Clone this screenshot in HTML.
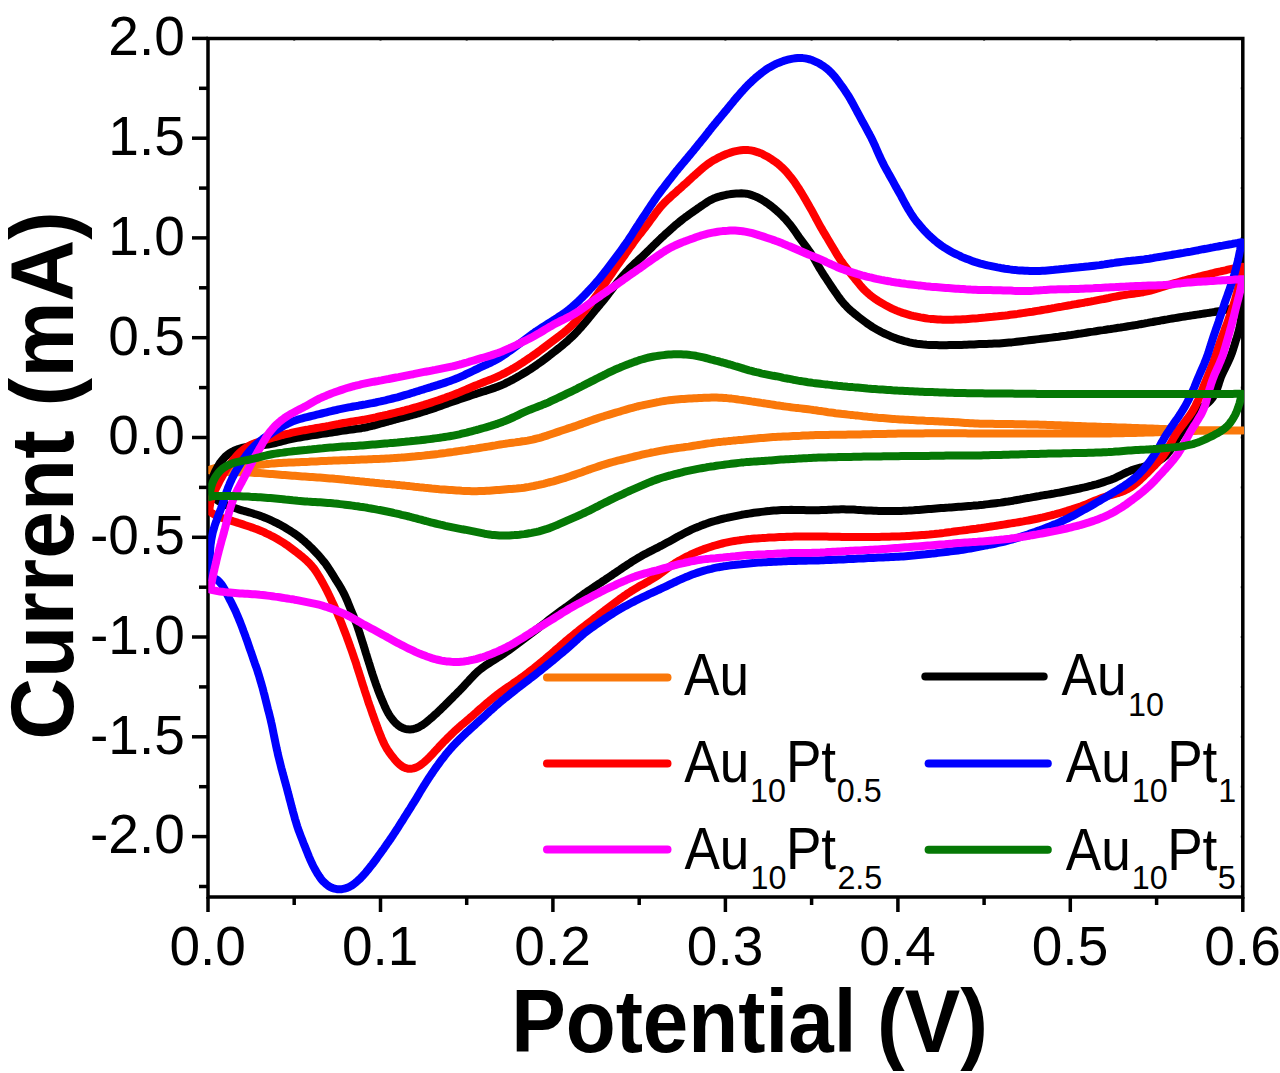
<!DOCTYPE html><html><head><meta charset="utf-8"><style>html,body{margin:0;padding:0;background:#fff;overflow:hidden}svg{display:block}text{font-family:"Liberation Sans",sans-serif}</style></head><body>
<svg width="1280" height="1073" viewBox="0 0 1280 1073">
<g stroke="#000" stroke-width="3.5" fill="none" stroke-linecap="square">
<rect x="208.0" y="38.5" width="1034.8" height="858.5"/>
</g>
<g stroke="#000" stroke-width="3.5" fill="none">
<line x1="199.0" y1="886.5" x2="208.0" y2="886.5"/>
<line x1="1242.8" y1="886.5" x2="1240.8" y2="886.5" stroke-width="2"/>
<line x1="192.0" y1="836.6" x2="208.0" y2="836.6"/>
<line x1="1242.8" y1="836.6" x2="1240.8" y2="836.6" stroke-width="2"/>
<line x1="199.0" y1="786.7" x2="208.0" y2="786.7"/>
<line x1="1242.8" y1="786.7" x2="1240.8" y2="786.7" stroke-width="2"/>
<line x1="192.0" y1="736.8" x2="208.0" y2="736.8"/>
<line x1="1242.8" y1="736.8" x2="1240.8" y2="736.8" stroke-width="2"/>
<line x1="199.0" y1="686.9" x2="208.0" y2="686.9"/>
<line x1="1242.8" y1="686.9" x2="1240.8" y2="686.9" stroke-width="2"/>
<line x1="192.0" y1="637.0" x2="208.0" y2="637.0"/>
<line x1="1242.8" y1="637.0" x2="1240.8" y2="637.0" stroke-width="2"/>
<line x1="199.0" y1="587.2" x2="208.0" y2="587.2"/>
<line x1="1242.8" y1="587.2" x2="1240.8" y2="587.2" stroke-width="2"/>
<line x1="192.0" y1="537.3" x2="208.0" y2="537.3"/>
<line x1="1242.8" y1="537.3" x2="1240.8" y2="537.3" stroke-width="2"/>
<line x1="199.0" y1="487.4" x2="208.0" y2="487.4"/>
<line x1="1242.8" y1="487.4" x2="1240.8" y2="487.4" stroke-width="2"/>
<line x1="192.0" y1="437.5" x2="208.0" y2="437.5"/>
<line x1="1242.8" y1="437.5" x2="1240.8" y2="437.5" stroke-width="2"/>
<line x1="199.0" y1="387.6" x2="208.0" y2="387.6"/>
<line x1="1242.8" y1="387.6" x2="1240.8" y2="387.6" stroke-width="2"/>
<line x1="192.0" y1="337.7" x2="208.0" y2="337.7"/>
<line x1="1242.8" y1="337.7" x2="1240.8" y2="337.7" stroke-width="2"/>
<line x1="199.0" y1="287.8" x2="208.0" y2="287.8"/>
<line x1="1242.8" y1="287.8" x2="1240.8" y2="287.8" stroke-width="2"/>
<line x1="192.0" y1="237.9" x2="208.0" y2="237.9"/>
<line x1="1242.8" y1="237.9" x2="1240.8" y2="237.9" stroke-width="2"/>
<line x1="199.0" y1="188.1" x2="208.0" y2="188.1"/>
<line x1="1242.8" y1="188.1" x2="1240.8" y2="188.1" stroke-width="2"/>
<line x1="192.0" y1="138.2" x2="208.0" y2="138.2"/>
<line x1="1242.8" y1="138.2" x2="1240.8" y2="138.2" stroke-width="2"/>
<line x1="199.0" y1="88.3" x2="208.0" y2="88.3"/>
<line x1="1242.8" y1="88.3" x2="1240.8" y2="88.3" stroke-width="2"/>
<line x1="192.0" y1="38.4" x2="208.0" y2="38.4"/>
<line x1="1242.8" y1="38.4" x2="1240.8" y2="38.4" stroke-width="2"/>
<line x1="208.0" y1="897.0" x2="208.0" y2="912.0"/>
<line x1="208.0" y1="38.5" x2="208.0" y2="40.5" stroke-width="2"/>
<line x1="294.2" y1="897.0" x2="294.2" y2="905.0"/>
<line x1="294.2" y1="38.5" x2="294.2" y2="40.5" stroke-width="2"/>
<line x1="380.5" y1="897.0" x2="380.5" y2="912.0"/>
<line x1="380.5" y1="38.5" x2="380.5" y2="40.5" stroke-width="2"/>
<line x1="466.7" y1="897.0" x2="466.7" y2="905.0"/>
<line x1="466.7" y1="38.5" x2="466.7" y2="40.5" stroke-width="2"/>
<line x1="552.9" y1="897.0" x2="552.9" y2="912.0"/>
<line x1="552.9" y1="38.5" x2="552.9" y2="40.5" stroke-width="2"/>
<line x1="639.2" y1="897.0" x2="639.2" y2="905.0"/>
<line x1="639.2" y1="38.5" x2="639.2" y2="40.5" stroke-width="2"/>
<line x1="725.4" y1="897.0" x2="725.4" y2="912.0"/>
<line x1="725.4" y1="38.5" x2="725.4" y2="40.5" stroke-width="2"/>
<line x1="811.6" y1="897.0" x2="811.6" y2="905.0"/>
<line x1="811.6" y1="38.5" x2="811.6" y2="40.5" stroke-width="2"/>
<line x1="897.9" y1="897.0" x2="897.9" y2="912.0"/>
<line x1="897.9" y1="38.5" x2="897.9" y2="40.5" stroke-width="2"/>
<line x1="984.1" y1="897.0" x2="984.1" y2="905.0"/>
<line x1="984.1" y1="38.5" x2="984.1" y2="40.5" stroke-width="2"/>
<line x1="1070.3" y1="897.0" x2="1070.3" y2="912.0"/>
<line x1="1070.3" y1="38.5" x2="1070.3" y2="40.5" stroke-width="2"/>
<line x1="1156.6" y1="897.0" x2="1156.6" y2="905.0"/>
<line x1="1156.6" y1="38.5" x2="1156.6" y2="40.5" stroke-width="2"/>
<line x1="1242.8" y1="897.0" x2="1242.8" y2="912.0"/>
<line x1="1242.8" y1="38.5" x2="1242.8" y2="40.5" stroke-width="2"/>
</g>
<defs><clipPath id="cp"><rect x="208.3" y="38.5" width="1035.7" height="858.5"/></clipPath></defs>
<g clip-path="url(#cp)" fill="none" stroke-width="8" stroke-linejoin="round" stroke-linecap="round">
<path d="M209.5,470.0 211.8,469.0 214.2,468.3 216.6,467.6 219.0,467.1 221.5,466.7 224.0,466.4 226.5,466.1 229.0,465.9 231.5,465.8 234.0,465.7 236.5,465.6 239.0,465.5 241.5,465.5 244.0,465.5 246.5,465.4 249.0,465.3 251.5,465.3 254.0,465.1 256.5,465.0 258.9,464.8 261.4,464.6 263.9,464.4 266.4,464.1 268.9,463.9 271.4,463.6 273.9,463.4 276.4,463.2 278.9,463.0 281.4,462.9 283.9,462.8 286.4,462.7 288.9,462.6 291.4,462.5 293.8,462.4 296.3,462.3 298.8,462.2 301.3,462.1 303.8,462.0 306.3,461.9 308.8,461.8 311.3,461.6 313.8,461.5 316.3,461.4 318.8,461.2 321.3,461.1 323.8,461.0 326.3,460.9 328.8,460.8 331.3,460.7 333.8,460.6 336.3,460.5 338.8,460.4 341.3,460.3 343.8,460.3 346.3,460.2 348.8,460.1 351.3,460.0 353.8,459.9 356.3,459.8 358.8,459.7 361.3,459.6 363.8,459.5 366.3,459.4 368.8,459.3 371.3,459.2 373.8,459.1 376.3,459.0 378.8,458.9 381.3,458.8 383.8,458.7 386.3,458.5 388.8,458.4 391.3,458.2 393.8,458.1 396.2,457.9 398.7,457.7 401.2,457.6 403.7,457.4 406.2,457.2 408.7,457.0 411.2,456.8 413.7,456.6 416.2,456.3 418.7,456.1 421.2,455.9 423.6,455.6 426.1,455.3 428.6,455.1 431.1,454.8 433.6,454.5 436.1,454.2 438.5,453.9 441.0,453.5 443.5,453.2 446.0,452.9 448.5,452.5 450.9,452.2 453.4,451.9 455.9,451.5 458.4,451.1 460.8,450.8 463.3,450.4 465.8,450.1 468.3,449.7 470.7,449.3 473.2,448.9 475.7,448.6 478.1,448.2 480.6,447.8 483.1,447.4 485.5,447.0 488.0,446.6 490.5,446.2 492.9,445.8 495.4,445.4 497.9,444.9 500.3,444.5 502.8,444.1 505.3,443.8 507.8,443.4 510.2,443.0 512.7,442.7 515.2,442.4 517.7,442.0 520.1,441.7 522.6,441.3 525.1,441.0 527.6,440.6 530.0,440.1 532.5,439.6 534.9,439.0 537.3,438.4 539.7,437.8 542.1,437.1 544.5,436.3 546.9,435.6 549.3,434.8 551.6,434.0 554.0,433.2 556.4,432.4 558.7,431.6 561.1,430.8 563.5,430.0 565.9,429.2 568.2,428.4 570.6,427.7 573.0,426.9 575.4,426.1 577.7,425.2 580.1,424.4 582.4,423.6 584.8,422.7 587.1,421.9 589.5,421.0 591.8,420.2 594.2,419.4 596.6,418.6 598.9,417.8 601.3,417.0 603.7,416.3 606.1,415.5 608.5,414.8 610.9,414.1 613.3,413.4 615.7,412.7 618.1,412.0 620.5,411.3 622.9,410.5 625.3,409.8 627.7,409.1 630.1,408.4 632.5,407.8 634.9,407.2 637.3,406.5 639.8,405.9 642.2,405.4 644.6,404.8 647.1,404.3 649.5,403.8 652.0,403.3 654.4,402.8 656.9,402.3 659.3,401.9 661.8,401.4 664.3,401.0 666.7,400.6 669.2,400.3 671.7,400.0 674.2,399.7 676.7,399.4 679.1,399.2 681.6,399.0 684.1,398.9 686.6,398.7 689.1,398.6 691.6,398.5 694.1,398.3 696.6,398.2 699.1,398.0 701.6,397.9 704.1,397.8 706.6,397.7 709.1,397.7 711.6,397.6 714.1,397.6 716.6,397.6 719.1,397.7 721.6,397.8 724.1,398.0 726.6,398.1 729.1,398.4 731.6,398.6 734.0,398.9 736.5,399.2 739.0,399.6 741.5,399.9 744.0,400.3 746.4,400.6 748.9,401.0 751.4,401.4 753.8,401.7 756.3,402.1 758.8,402.5 761.3,402.9 763.7,403.2 766.2,403.6 768.7,404.0 771.1,404.4 773.6,404.8 776.1,405.2 778.6,405.5 781.0,405.9 783.5,406.3 786.0,406.6 788.5,406.9 790.9,407.3 793.4,407.6 795.9,407.9 798.4,408.1 800.9,408.4 803.4,408.7 805.8,409.0 808.3,409.3 810.8,409.6 813.3,410.0 815.7,410.3 818.2,410.7 820.7,411.0 823.2,411.4 825.6,411.8 828.1,412.2 830.6,412.5 833.1,412.8 835.5,413.2 838.0,413.5 840.5,413.8 843.0,414.1 845.5,414.3 848.0,414.6 850.4,414.9 852.9,415.1 855.4,415.4 857.9,415.6 860.4,415.9 862.9,416.2 865.4,416.4 867.9,416.7 870.3,416.9 872.8,417.2 875.3,417.4 877.8,417.7 880.3,417.9 882.8,418.1 885.3,418.3 887.8,418.5 890.3,418.7 892.8,418.9 895.2,419.1 897.7,419.2 900.2,419.4 902.7,419.5 905.2,419.7 907.7,419.8 910.2,420.0 912.7,420.1 915.2,420.2 917.7,420.4 920.2,420.5 922.7,420.6 925.2,420.8 927.7,420.9 930.2,421.0 932.7,421.1 935.2,421.2 937.7,421.3 940.2,421.5 942.7,421.6 945.2,421.7 947.7,421.8 950.2,421.9 952.7,422.0 955.2,422.2 957.7,422.3 960.2,422.5 962.6,422.7 965.1,422.9 967.6,423.0 970.1,423.2 972.6,423.3 975.1,423.5 977.6,423.6 980.1,423.7 982.6,423.7 985.1,423.7 987.6,423.8 990.1,423.8 992.6,423.8 995.1,423.9 997.6,423.9 1000.1,423.9 1002.6,424.0 1005.1,424.0 1007.6,424.1 1010.1,424.1 1012.6,424.1 1015.1,424.2 1017.6,424.2 1020.1,424.2 1022.6,424.3 1025.1,424.3 1027.6,424.4 1030.1,424.4 1032.6,424.5 1035.1,424.6 1037.6,424.6 1040.1,424.7 1042.6,424.8 1045.1,424.8 1047.6,424.9 1050.1,425.0 1052.6,425.1 1055.1,425.2 1057.6,425.3 1060.1,425.3 1062.6,425.4 1065.1,425.5 1067.6,425.6 1070.1,425.7 1072.6,425.8 1075.1,425.9 1077.6,426.0 1080.1,426.1 1082.6,426.2 1085.1,426.3 1087.6,426.4 1090.1,426.4 1092.6,426.5 1095.1,426.6 1097.6,426.7 1100.1,426.8 1102.6,426.9 1105.1,427.0 1107.6,427.1 1110.1,427.1 1112.6,427.2 1115.1,427.3 1117.6,427.4 1120.1,427.5 1122.6,427.6 1125.1,427.6 1127.6,427.7 1130.1,427.8 1132.6,427.9 1135.1,428.0 1137.6,428.1 1140.0,428.2 1142.5,428.2 1145.0,428.3 1147.5,428.4 1150.0,428.5 1152.5,428.6 1155.0,428.7 1157.5,428.8 1160.0,428.9 1162.5,429.0 1165.0,429.1 1167.5,429.2 1170.0,429.3 1172.5,429.4 1175.0,429.5 1177.5,429.6 1180.0,429.7 1182.5,429.8 1185.0,429.9 1187.5,429.9 1190.0,430.0 1192.5,430.0 1195.0,430.1 1197.5,430.1 1200.0,430.2 1202.5,430.2 1205.0,430.2 1207.5,430.2 1210.0,430.2 1212.5,430.3 1215.0,430.3 1217.5,430.3 1220.0,430.3 1222.5,430.3 1225.0,430.3 1227.5,430.3 1230.0,430.3 1232.5,430.4 1235.0,430.4 1237.5,430.4 1240.0,430.4 1242.5,430.4 1243.0,430.4 1240.5,430.4 1238.0,430.4 1235.5,430.5 1233.0,430.5 1230.5,430.5 1228.0,430.5 1225.5,430.5 1223.0,430.6 1220.5,430.6 1218.0,430.6 1215.5,430.6 1213.0,430.7 1210.5,430.7 1208.0,430.7 1205.5,430.7 1203.0,430.8 1200.5,430.8 1198.0,430.8 1195.5,430.9 1193.0,430.9 1190.5,431.0 1188.0,431.1 1185.5,431.1 1183.0,431.2 1180.5,431.3 1178.0,431.4 1175.5,431.5 1173.0,431.6 1170.5,431.7 1168.0,431.8 1165.5,431.9 1163.0,432.0 1160.5,432.1 1158.0,432.2 1155.5,432.3 1153.0,432.4 1150.5,432.5 1148.0,432.6 1145.5,432.6 1143.0,432.7 1140.5,432.8 1138.0,432.8 1135.5,432.9 1133.0,432.9 1130.5,433.0 1128.0,433.1 1125.5,433.1 1123.0,433.2 1120.5,433.2 1118.0,433.3 1115.5,433.3 1113.0,433.3 1110.5,433.4 1108.0,433.4 1105.5,433.4 1103.0,433.5 1100.5,433.5 1098.0,433.5 1095.5,433.5 1093.0,433.5 1090.5,433.6 1088.0,433.6 1085.5,433.6 1083.0,433.6 1080.5,433.6 1078.0,433.6 1075.5,433.6 1073.0,433.6 1070.5,433.6 1068.0,433.6 1065.5,433.6 1063.0,433.6 1060.5,433.6 1058.0,433.5 1055.5,433.5 1053.0,433.5 1050.5,433.5 1048.0,433.5 1045.5,433.5 1043.0,433.5 1040.5,433.5 1038.0,433.5 1035.5,433.5 1033.0,433.5 1030.5,433.5 1028.0,433.5 1025.5,433.5 1023.0,433.5 1020.5,433.5 1018.0,433.5 1015.5,433.5 1013.0,433.5 1010.5,433.5 1008.0,433.5 1005.5,433.5 1003.0,433.5 1000.5,433.5 998.0,433.4 995.5,433.4 993.0,433.4 990.5,433.4 988.0,433.4 985.5,433.4 983.0,433.4 980.5,433.4 978.0,433.4 975.5,433.4 973.0,433.4 970.5,433.4 968.0,433.4 965.5,433.3 963.0,433.3 960.5,433.3 958.0,433.3 955.5,433.3 953.0,433.3 950.5,433.3 948.0,433.3 945.5,433.3 943.0,433.3 940.5,433.3 938.0,433.3 935.5,433.3 933.0,433.3 930.5,433.3 928.0,433.3 925.5,433.3 923.0,433.4 920.5,433.4 918.0,433.4 915.5,433.4 913.0,433.4 910.5,433.5 908.0,433.5 905.5,433.5 903.0,433.6 900.5,433.6 898.0,433.6 895.5,433.7 893.0,433.7 890.5,433.8 888.0,433.8 885.5,433.9 883.0,433.9 880.5,434.0 878.0,434.0 875.6,434.1 873.1,434.1 870.6,434.2 868.1,434.2 865.6,434.3 863.1,434.3 860.6,434.4 858.1,434.5 855.6,434.5 853.1,434.6 850.6,434.6 848.1,434.6 845.6,434.7 843.1,434.7 840.6,434.7 838.1,434.8 835.6,434.8 833.1,434.8 830.6,434.8 828.1,434.9 825.6,434.9 823.1,434.9 820.6,435.0 818.1,435.0 815.6,435.1 813.1,435.2 810.6,435.3 808.1,435.4 805.6,435.5 803.1,435.6 800.6,435.8 798.1,435.9 795.6,436.0 793.1,436.1 790.6,436.2 788.1,436.4 785.6,436.5 783.1,436.6 780.6,436.7 778.1,436.8 775.6,436.9 773.1,437.1 770.6,437.3 768.1,437.5 765.6,437.7 763.1,437.9 760.6,438.1 758.2,438.3 755.7,438.6 753.2,438.8 750.7,439.0 748.2,439.2 745.7,439.4 743.2,439.7 740.7,439.9 738.2,440.1 735.8,440.4 733.3,440.6 730.8,440.9 728.3,441.1 725.8,441.4 723.3,441.6 720.8,441.9 718.3,442.1 715.9,442.4 713.4,442.7 710.9,443.1 708.4,443.4 706.0,443.8 703.5,444.2 701.0,444.6 698.6,445.0 696.1,445.4 693.6,445.8 691.1,446.2 688.7,446.6 686.2,446.9 683.7,447.3 681.2,447.6 678.8,447.9 676.3,448.3 673.8,448.6 671.3,449.0 668.9,449.4 666.4,449.8 663.9,450.2 661.5,450.6 659.0,451.1 656.6,451.6 654.1,452.1 651.7,452.5 649.2,453.1 646.8,453.6 644.3,454.1 641.9,454.7 639.5,455.3 637.0,455.9 634.6,456.5 632.2,457.1 629.8,457.7 627.3,458.3 624.9,458.9 622.5,459.5 620.1,460.1 617.6,460.7 615.2,461.3 612.8,462.0 610.4,462.7 608.0,463.4 605.6,464.1 603.2,464.8 600.8,465.6 598.5,466.4 596.1,467.2 593.7,468.0 591.4,468.8 589.0,469.6 586.6,470.5 584.3,471.3 581.9,472.2 579.6,473.0 577.2,473.8 574.9,474.6 572.5,475.4 570.1,476.2 567.7,477.0 565.4,477.8 563.0,478.5 560.6,479.2 558.2,479.9 555.8,480.6 553.4,481.3 551.0,481.9 548.5,482.5 546.1,483.2 543.7,483.8 541.2,484.3 538.8,484.9 536.4,485.4 533.9,486.0 531.5,486.4 529.0,486.9 526.5,487.3 524.1,487.7 521.6,488.0 519.1,488.2 516.6,488.5 514.1,488.7 511.6,488.9 509.1,489.1 506.7,489.3 504.2,489.5 501.7,489.7 499.2,489.9 496.7,490.1 494.2,490.3 491.7,490.5 489.2,490.7 486.7,490.8 484.2,491.0 481.7,491.1 479.2,491.1 476.7,491.2 474.2,491.2 471.7,491.2 469.2,491.1 466.7,491.0 464.2,490.9 461.7,490.8 459.2,490.6 456.7,490.5 454.2,490.3 451.7,490.1 449.3,490.0 446.8,489.8 444.3,489.6 441.8,489.4 439.3,489.2 436.8,488.9 434.3,488.7 431.8,488.5 429.3,488.2 426.8,487.9 424.4,487.7 421.9,487.4 419.4,487.2 416.9,486.9 414.4,486.7 411.9,486.4 409.4,486.1 407.0,485.9 404.5,485.6 402.0,485.4 399.5,485.1 397.0,484.9 394.5,484.6 392.0,484.4 389.5,484.1 387.1,483.9 384.6,483.7 382.1,483.4 379.6,483.2 377.1,482.9 374.6,482.7 372.1,482.4 369.6,482.2 367.1,481.9 364.7,481.7 362.2,481.4 359.7,481.2 357.2,480.9 354.7,480.7 352.2,480.4 349.7,480.2 347.2,479.9 344.8,479.7 342.3,479.4 339.8,479.2 337.3,479.0 334.8,478.8 332.3,478.5 329.8,478.4 327.3,478.2 324.8,478.0 322.3,477.8 319.8,477.6 317.4,477.5 314.9,477.3 312.4,477.1 309.9,477.0 307.4,476.8 304.9,476.6 302.4,476.4 299.9,476.2 297.4,476.0 294.9,475.8 292.4,475.7 289.9,475.5 287.4,475.3 284.9,475.1 282.4,474.9 280.0,474.7 277.5,474.5 275.0,474.3 272.5,474.1 270.0,473.9 267.5,473.7 265.0,473.5 262.5,473.3 260.0,473.1 257.5,473.0 255.0,472.9 252.5,472.7 250.0,472.6 247.5,472.6 245.0,472.5 242.5,472.4 240.0,472.3 237.5,472.3 235.0,472.2 232.5,472.1 230.0,472.0 227.5,471.9 225.0,471.8 222.5,471.6 220.1,471.4 217.6,471.2 215.1,470.9 212.6,470.6 210.1,470.2 209.5,470.0" stroke="#fa780a"/>
<path d="M210.0,490.0 210.2,487.5 210.7,485.1 211.2,482.6 211.9,480.2 212.7,477.8 213.5,475.5 214.5,473.2 215.5,470.9 216.7,468.7 217.9,466.5 219.2,464.3 220.5,462.3 222.0,460.3 223.7,458.4 225.4,456.6 227.3,454.9 229.3,453.4 231.4,452.1 233.6,451.0 235.9,450.0 238.3,449.1 240.7,448.4 243.1,447.7 245.5,447.2 248.0,446.8 250.5,446.5 252.9,446.2 255.4,446.0 257.9,445.8 260.4,445.5 262.9,445.3 265.4,444.9 267.9,444.6 270.3,444.1 272.8,443.6 275.2,443.0 277.6,442.4 280.0,441.8 282.4,441.1 284.9,440.5 287.3,439.9 289.7,439.4 292.2,438.9 294.6,438.4 297.1,437.9 299.6,437.5 302.0,437.0 304.5,436.6 306.9,436.2 309.4,435.8 311.9,435.4 314.4,435.0 316.8,434.7 319.3,434.3 321.8,433.9 324.3,433.6 326.7,433.2 329.2,432.9 331.7,432.5 334.1,432.1 336.6,431.7 339.1,431.3 341.6,430.9 344.0,430.6 346.5,430.2 349.0,429.9 351.5,429.6 353.9,429.2 356.4,428.9 358.9,428.6 361.4,428.2 363.8,427.7 366.3,427.3 368.7,426.7 371.1,426.2 373.6,425.5 376.0,424.9 378.4,424.2 380.8,423.5 383.2,422.8 385.6,422.1 388.0,421.5 390.4,420.8 392.8,420.1 395.2,419.5 397.7,418.8 400.1,418.2 402.5,417.6 404.9,416.9 407.3,416.3 409.7,415.6 412.2,415.0 414.6,414.3 417.0,413.6 419.4,413.0 421.8,412.2 424.2,411.5 426.5,410.8 428.9,410.0 431.3,409.2 433.7,408.4 436.0,407.6 438.4,406.7 440.7,405.9 443.1,405.0 445.4,404.2 447.8,403.4 450.1,402.5 452.5,401.7 454.9,400.9 457.2,400.1 459.6,399.3 462.0,398.5 464.3,397.7 466.7,396.9 469.1,396.1 471.5,395.3 473.8,394.5 476.2,393.8 478.6,393.0 481.0,392.2 483.4,391.5 485.8,390.8 488.1,390.0 490.5,389.2 492.9,388.4 495.2,387.6 497.6,386.7 499.9,385.8 502.2,384.8 504.5,383.8 506.7,382.7 509.0,381.6 511.2,380.4 513.4,379.3 515.6,378.1 517.8,376.8 519.9,375.6 522.1,374.3 524.2,373.0 526.4,371.7 528.5,370.4 530.6,369.1 532.7,367.7 534.7,366.3 536.8,364.9 538.8,363.4 540.9,362.0 542.9,360.5 544.9,359.0 546.9,357.5 548.9,356.0 550.9,354.4 552.8,352.9 554.8,351.4 556.8,349.8 558.8,348.3 560.7,346.7 562.6,345.1 564.5,343.5 566.4,341.9 568.3,340.2 570.1,338.5 572.0,336.8 573.7,335.1 575.5,333.3 577.2,331.5 578.9,329.6 580.6,327.8 582.2,325.9 583.9,324.0 585.5,322.1 587.1,320.2 588.7,318.2 590.2,316.3 591.8,314.4 593.4,312.5 595.0,310.5 596.6,308.6 598.2,306.7 599.8,304.8 601.4,302.8 603.0,300.9 604.6,298.9 606.1,297.0 607.6,295.0 609.1,293.0 610.7,291.0 612.2,289.1 613.7,287.1 615.3,285.1 616.8,283.1 618.4,281.2 620.0,279.3 621.6,277.3 623.2,275.4 624.8,273.6 626.5,271.7 628.2,269.9 629.9,268.1 631.7,266.3 633.5,264.6 635.3,262.8 637.2,261.2 639.0,259.5 640.9,257.8 642.7,256.1 644.5,254.4 646.3,252.7 648.1,250.9 649.9,249.2 651.7,247.4 653.4,245.6 655.2,243.9 657.0,242.1 658.8,240.4 660.6,238.7 662.4,236.9 664.3,235.2 666.1,233.5 667.9,231.9 669.8,230.2 671.7,228.5 673.6,226.9 675.4,225.2 677.4,223.6 679.3,222.0 681.2,220.5 683.2,218.9 685.2,217.4 687.2,216.0 689.2,214.5 691.3,213.0 693.3,211.6 695.4,210.2 697.4,208.7 699.5,207.3 701.5,205.9 703.6,204.5 705.7,203.1 707.8,201.7 709.9,200.4 712.1,199.3 714.4,198.2 716.7,197.4 719.1,196.6 721.5,196.0 724.0,195.4 726.4,194.8 728.9,194.4 731.3,194.0 733.8,193.7 736.3,193.5 738.8,193.4 741.3,193.3 743.8,193.4 746.3,193.7 748.7,194.2 751.1,194.9 753.5,195.7 755.8,196.6 758.1,197.7 760.3,198.8 762.5,200.1 764.6,201.4 766.7,202.8 768.7,204.2 770.7,205.7 772.7,207.3 774.6,208.9 776.5,210.5 778.4,212.2 780.2,213.9 782.0,215.6 783.7,217.4 785.5,219.2 787.1,221.1 788.7,223.0 790.3,224.9 791.8,226.9 793.3,228.9 794.8,231.0 796.2,233.0 797.6,235.1 799.0,237.1 800.5,239.1 802.0,241.1 803.5,243.1 805.0,245.1 806.5,247.1 808.0,249.2 809.4,251.2 810.8,253.3 812.2,255.4 813.5,257.5 814.7,259.7 816.0,261.8 817.2,264.0 818.4,266.2 819.7,268.4 821.0,270.5 822.3,272.6 823.6,274.7 825.0,276.8 826.4,278.9 827.8,281.0 829.2,283.1 830.6,285.2 831.9,287.2 833.3,289.3 834.7,291.4 836.2,293.4 837.6,295.5 839.0,297.5 840.5,299.5 842.1,301.5 843.7,303.4 845.4,305.2 847.1,307.1 848.9,308.8 850.7,310.5 852.6,312.1 854.5,313.8 856.5,315.3 858.4,316.9 860.4,318.4 862.4,319.9 864.4,321.4 866.4,322.9 868.5,324.3 870.5,325.7 872.6,327.1 874.8,328.4 876.9,329.6 879.1,330.8 881.3,332.0 883.6,333.1 885.8,334.2 888.1,335.2 890.4,336.2 892.7,337.1 895.1,338.0 897.4,338.9 899.8,339.7 902.2,340.4 904.6,341.1 907.0,341.7 909.4,342.3 911.9,342.8 914.3,343.3 916.8,343.7 919.3,344.0 921.8,344.3 924.2,344.6 926.7,344.8 929.2,344.9 931.7,345.0 934.2,345.1 936.7,345.1 939.2,345.2 941.7,345.2 944.2,345.2 946.7,345.2 949.2,345.1 951.7,345.1 954.2,345.0 956.7,345.0 959.2,344.9 961.7,344.9 964.2,344.8 966.7,344.7 969.2,344.6 971.7,344.5 974.2,344.4 976.7,344.2 979.2,344.1 981.7,344.0 984.2,343.9 986.7,343.9 989.2,343.8 991.7,343.7 994.2,343.6 996.7,343.5 999.2,343.4 1001.7,343.2 1004.2,343.0 1006.7,342.8 1009.2,342.6 1011.7,342.4 1014.1,342.1 1016.6,341.8 1019.1,341.5 1021.6,341.2 1024.1,340.9 1026.6,340.6 1029.0,340.3 1031.5,340.0 1034.0,339.7 1036.5,339.4 1039.0,339.1 1041.4,338.8 1043.9,338.5 1046.4,338.2 1048.9,337.9 1051.4,337.6 1053.9,337.3 1056.3,337.0 1058.8,336.7 1061.3,336.3 1063.8,336.0 1066.2,335.7 1068.7,335.3 1071.2,335.0 1073.7,334.6 1076.1,334.2 1078.6,333.8 1081.1,333.5 1083.6,333.1 1086.0,332.7 1088.5,332.3 1091.0,331.9 1093.4,331.6 1095.9,331.2 1098.4,330.8 1100.9,330.4 1103.3,330.1 1105.8,329.7 1108.3,329.3 1110.7,329.0 1113.2,328.6 1115.7,328.2 1118.2,327.8 1120.6,327.5 1123.1,327.1 1125.6,326.7 1128.0,326.3 1130.5,325.9 1133.0,325.5 1135.4,325.1 1137.9,324.7 1140.4,324.2 1142.8,323.8 1145.3,323.3 1147.7,322.9 1150.2,322.4 1152.7,322.0 1155.1,321.5 1157.6,321.1 1160.0,320.7 1162.5,320.2 1165.0,319.8 1167.4,319.4 1169.9,318.9 1172.4,318.5 1174.8,318.1 1177.3,317.7 1179.8,317.3 1182.2,316.9 1184.7,316.5 1187.2,316.1 1189.6,315.8 1192.1,315.4 1194.6,315.0 1197.1,314.6 1199.5,314.3 1202.0,313.9 1204.5,313.5 1206.9,313.1 1209.4,312.8 1211.9,312.4 1214.4,312.0 1216.8,311.5 1219.3,311.1 1221.7,310.7 1224.2,310.2 1226.6,309.7 1229.1,309.2 1231.5,308.6 1234.0,308.1 1236.4,307.5 1238.8,306.9 1241.2,306.3 1242.5,306.0 1242.3,308.5 1242.1,311.0 1241.8,313.5 1241.6,316.0 1241.2,318.4 1240.8,320.9 1240.4,323.4 1239.9,325.8 1239.4,328.3 1238.8,330.7 1238.1,333.1 1237.4,335.5 1236.7,337.9 1235.9,340.3 1235.2,342.7 1234.5,345.0 1233.7,347.4 1233.0,349.8 1232.2,352.2 1231.3,354.5 1230.4,356.9 1229.4,359.2 1228.4,361.4 1227.3,363.7 1226.2,365.9 1225.1,368.2 1224.0,370.4 1222.9,372.7 1221.9,374.9 1220.9,377.3 1220.1,379.6 1219.3,382.0 1218.6,384.4 1217.8,386.8 1217.0,389.1 1216.1,391.4 1215.0,393.7 1213.8,395.9 1212.4,398.0 1210.8,399.9 1209.1,401.7 1207.2,403.4 1205.3,405.0 1203.4,406.5 1201.4,408.1 1199.5,409.7 1197.7,411.4 1196.0,413.2 1194.3,415.1 1192.7,417.1 1191.2,419.0 1189.7,421.1 1188.3,423.1 1186.8,425.1 1185.4,427.1 1183.9,429.2 1182.4,431.2 1180.9,433.2 1179.5,435.2 1178.1,437.3 1176.8,439.4 1175.5,441.6 1174.2,443.7 1173.0,445.9 1171.7,448.0 1170.3,450.1 1168.8,452.1 1167.2,454.1 1165.5,455.9 1163.6,457.5 1161.6,459.0 1159.5,460.4 1157.3,461.5 1155.1,462.6 1152.8,463.6 1150.4,464.5 1148.1,465.3 1145.7,466.1 1143.3,466.8 1140.9,467.5 1138.5,468.1 1136.1,468.8 1133.7,469.6 1131.3,470.4 1129.0,471.4 1126.7,472.3 1124.4,473.4 1122.2,474.5 1120.0,475.6 1117.7,476.7 1115.4,477.8 1113.2,478.8 1110.8,479.7 1108.5,480.5 1106.1,481.3 1103.7,482.1 1101.3,482.9 1099.0,483.6 1096.6,484.3 1094.1,484.9 1091.7,485.6 1089.3,486.2 1086.9,486.8 1084.4,487.4 1082.0,487.9 1079.6,488.5 1077.1,489.0 1074.7,489.5 1072.2,490.0 1069.8,490.5 1067.3,491.0 1064.9,491.5 1062.4,492.0 1060.0,492.5 1057.5,492.9 1055.0,493.3 1052.6,493.8 1050.1,494.2 1047.7,494.6 1045.2,495.0 1042.7,495.4 1040.3,495.8 1037.8,496.3 1035.3,496.7 1032.9,497.1 1030.4,497.6 1027.9,498.0 1025.5,498.4 1023.0,498.9 1020.6,499.3 1018.1,499.8 1015.6,500.2 1013.2,500.7 1010.7,501.1 1008.2,501.5 1005.8,501.8 1003.3,502.2 1000.8,502.6 998.4,502.9 995.9,503.2 993.4,503.5 990.9,503.8 988.4,504.1 985.9,504.4 983.5,504.7 981.0,504.9 978.5,505.2 976.0,505.4 973.5,505.6 971.0,505.9 968.5,506.1 966.0,506.3 963.5,506.5 961.0,506.7 958.6,506.8 956.1,507.0 953.6,507.2 951.1,507.4 948.6,507.6 946.1,507.7 943.6,507.9 941.1,508.1 938.6,508.3 936.1,508.5 933.6,508.7 931.1,508.9 928.6,509.1 926.1,509.3 923.7,509.5 921.2,509.7 918.7,509.9 916.2,510.1 913.7,510.3 911.2,510.4 908.7,510.6 906.2,510.7 903.7,510.8 901.2,510.9 898.7,511.0 896.2,511.0 893.7,511.0 891.2,511.0 888.7,511.0 886.2,511.0 883.7,511.0 881.2,511.0 878.7,510.9 876.2,510.8 873.7,510.8 871.2,510.6 868.7,510.5 866.2,510.4 863.7,510.2 861.2,510.1 858.7,509.9 856.2,509.8 853.7,509.6 851.2,509.5 848.7,509.4 846.2,509.4 843.7,509.3 841.2,509.3 838.7,509.4 836.2,509.5 833.7,509.6 831.2,509.7 828.8,509.8 826.3,509.9 823.8,510.0 821.3,510.1 818.8,510.2 816.3,510.2 813.8,510.3 811.3,510.3 808.8,510.2 806.3,510.2 803.8,510.1 801.3,510.1 798.8,510.0 796.3,509.9 793.8,509.9 791.3,509.8 788.8,509.9 786.3,509.9 783.8,510.0 781.3,510.1 778.8,510.2 776.3,510.4 773.8,510.6 771.3,510.8 768.8,511.1 766.3,511.3 763.8,511.6 761.4,511.9 758.9,512.2 756.4,512.5 753.9,512.8 751.4,513.2 749.0,513.6 746.5,514.0 744.0,514.4 741.6,514.8 739.1,515.3 736.7,515.8 734.2,516.3 731.8,516.8 729.3,517.3 726.9,517.9 724.5,518.4 722.0,519.0 719.6,519.6 717.2,520.3 714.8,521.0 712.4,521.7 710.0,522.4 707.6,523.2 705.3,524.1 702.9,524.9 700.6,525.8 698.3,526.8 696.0,527.7 693.7,528.7 691.4,529.7 689.1,530.8 686.9,531.9 684.7,533.0 682.4,534.2 680.2,535.4 678.0,536.5 675.8,537.8 673.7,539.0 671.5,540.2 669.3,541.4 667.1,542.6 664.9,543.8 662.7,545.0 660.5,546.1 658.3,547.3 656.0,548.4 653.8,549.5 651.6,550.7 649.3,551.8 647.1,553.0 644.9,554.1 642.7,555.3 640.5,556.6 638.4,557.8 636.2,559.1 634.1,560.4 632.0,561.7 629.9,563.1 627.8,564.4 625.7,565.8 623.6,567.2 621.5,568.6 619.5,570.0 617.4,571.4 615.3,572.8 613.2,574.2 611.2,575.6 609.1,577.0 607.0,578.4 605.0,579.8 602.9,581.2 600.8,582.6 598.7,583.9 596.6,585.3 594.5,586.7 592.5,588.1 590.4,589.5 588.3,590.9 586.3,592.3 584.2,593.7 582.2,595.2 580.2,596.7 578.1,598.1 576.1,599.6 574.1,601.1 572.1,602.6 570.1,604.1 568.1,605.6 566.1,607.1 564.1,608.5 562.0,610.0 560.0,611.5 558.0,613.0 556.0,614.5 554.0,616.0 552.0,617.5 550.0,619.0 548.1,620.5 546.1,622.1 544.1,623.6 542.1,625.1 540.1,626.6 538.2,628.2 536.2,629.7 534.2,631.2 532.2,632.7 530.2,634.2 528.2,635.7 526.2,637.2 524.2,638.7 522.2,640.2 520.2,641.7 518.2,643.2 516.2,644.7 514.2,646.2 512.2,647.7 510.2,649.2 508.2,650.7 506.1,652.1 504.1,653.6 502.0,655.0 499.9,656.4 497.8,657.7 495.7,659.0 493.6,660.4 491.5,661.7 489.4,663.0 487.3,664.3 485.2,665.7 483.1,667.2 481.1,668.7 479.2,670.3 477.3,671.9 475.5,673.6 473.7,675.4 472.0,677.2 470.3,679.0 468.6,680.9 466.9,682.7 465.2,684.6 463.5,686.4 461.8,688.2 460.1,690.0 458.3,691.8 456.6,693.6 454.8,695.3 453.1,697.1 451.3,698.9 449.5,700.7 447.8,702.4 446.0,704.2 444.2,706.0 442.4,707.7 440.6,709.5 438.8,711.2 437.0,712.9 435.1,714.6 433.3,716.2 431.4,717.9 429.5,719.5 427.6,721.1 425.7,722.7 423.6,724.2 421.6,725.6 419.4,726.8 417.2,727.9 414.8,728.7 412.4,729.3 409.9,729.5 407.4,729.3 404.9,728.8 402.6,727.9 400.4,726.8 398.3,725.4 396.4,723.8 394.6,722.0 393.0,720.1 391.5,718.1 390.0,716.1 388.7,714.0 387.5,711.8 386.3,709.6 385.2,707.3 384.2,705.0 383.2,702.7 382.2,700.4 381.3,698.1 380.3,695.8 379.4,693.5 378.5,691.2 377.6,688.8 376.8,686.5 375.9,684.1 375.1,681.8 374.3,679.4 373.5,677.0 372.7,674.7 371.9,672.3 371.2,669.9 370.4,667.5 369.7,665.1 368.9,662.7 368.2,660.4 367.4,658.0 366.7,655.6 365.9,653.2 365.2,650.8 364.5,648.4 363.7,646.0 363.0,643.6 362.2,641.3 361.5,638.9 360.7,636.5 359.9,634.1 359.2,631.7 358.4,629.4 357.6,627.0 356.8,624.6 355.9,622.3 355.0,620.0 354.1,617.6 353.2,615.3 352.2,613.0 351.2,610.7 350.3,608.4 349.4,606.1 348.4,603.7 347.5,601.4 346.5,599.1 345.5,596.9 344.4,594.6 343.3,592.4 342.1,590.2 340.9,588.0 339.6,585.8 338.3,583.7 337.0,581.6 335.6,579.5 334.3,577.3 333.0,575.2 331.7,573.1 330.4,571.0 329.0,568.9 327.6,566.8 326.2,564.7 324.7,562.7 323.1,560.8 321.6,558.8 319.9,556.9 318.3,555.0 316.6,553.2 314.9,551.4 313.1,549.6 311.4,547.8 309.6,546.1 307.8,544.3 305.9,542.7 304.1,541.0 302.1,539.4 300.2,537.8 298.2,536.3 296.2,534.8 294.2,533.4 292.1,532.0 290.0,530.6 287.9,529.3 285.7,528.0 283.6,526.7 281.4,525.5 279.2,524.3 277.0,523.2 274.7,522.1 272.5,521.0 270.2,519.9 267.9,518.9 265.6,517.9 263.3,517.0 261.0,516.1 258.6,515.3 256.2,514.5 253.9,513.8 251.5,513.0 249.1,512.3 246.7,511.6 244.3,511.0 241.9,510.3 239.5,509.6 237.1,508.8 234.7,508.0 232.3,507.2 230.0,506.4 227.6,505.6 225.3,504.6 223.0,503.6 220.8,502.4 218.7,501.1 216.6,499.7 214.8,498.0 213.1,496.2 211.7,494.1 210.6,491.8 210.0,490.0" stroke="#000"/>
<path d="M209.5,510.0 209.6,507.5 210.0,505.0 210.4,502.6 211.1,500.2 211.8,497.8 212.7,495.4 213.6,493.1 214.7,490.8 215.8,488.6 216.9,486.4 218.1,484.1 219.2,481.9 220.4,479.7 221.6,477.5 222.8,475.3 224.0,473.2 225.3,471.0 226.6,468.9 228.0,466.8 229.5,464.8 231.0,462.8 232.5,460.8 234.1,458.9 235.7,456.9 237.4,455.1 239.1,453.3 241.0,451.6 242.9,450.0 244.9,448.5 246.9,447.1 249.1,445.8 251.3,444.7 253.6,443.7 255.9,442.8 258.3,442.0 260.7,441.2 263.1,440.5 265.5,439.8 267.9,439.1 270.3,438.4 272.7,437.7 275.1,437.0 277.5,436.4 279.9,435.7 282.3,435.0 284.7,434.4 287.2,433.8 289.6,433.3 292.0,432.7 294.5,432.2 296.9,431.7 299.4,431.2 301.8,430.7 304.3,430.2 306.7,429.8 309.2,429.3 311.7,428.9 314.1,428.5 316.6,428.0 319.1,427.6 321.5,427.2 324.0,426.8 326.5,426.3 328.9,425.9 331.4,425.4 333.8,424.9 336.3,424.4 338.7,424.0 341.2,423.5 343.6,423.0 346.1,422.6 348.6,422.2 351.0,421.8 353.5,421.4 356.0,421.0 358.4,420.6 360.9,420.2 363.4,419.8 365.8,419.3 368.3,418.8 370.7,418.3 373.2,417.8 375.6,417.3 378.1,416.7 380.5,416.2 382.9,415.7 385.4,415.1 387.8,414.6 390.2,414.0 392.7,413.4 395.1,412.8 397.5,412.2 400.0,411.6 402.4,411.0 404.8,410.4 407.2,409.7 409.6,409.1 412.0,408.4 414.4,407.7 416.8,407.0 419.2,406.3 421.6,405.6 424.0,404.9 426.4,404.1 428.8,403.4 431.2,402.6 433.6,401.8 435.9,401.0 438.3,400.2 440.6,399.4 443.0,398.5 445.4,397.7 447.7,396.8 450.1,396.0 452.4,395.1 454.7,394.2 457.1,393.3 459.4,392.4 461.7,391.4 464.0,390.4 466.3,389.5 468.6,388.5 470.9,387.5 473.2,386.5 475.5,385.5 477.8,384.6 480.1,383.6 482.4,382.7 484.8,381.8 487.1,380.9 489.4,380.0 491.7,379.1 494.1,378.1 496.4,377.1 498.6,376.1 500.9,375.0 503.1,373.9 505.4,372.8 507.6,371.6 509.7,370.4 511.9,369.1 514.1,367.9 516.2,366.6 518.3,365.3 520.5,363.9 522.6,362.6 524.7,361.2 526.7,359.8 528.8,358.4 530.9,357.0 532.9,355.6 535.0,354.2 537.0,352.7 539.0,351.2 541.0,349.8 543.0,348.3 545.0,346.8 547.0,345.3 549.0,343.8 551.0,342.3 553.0,340.8 555.0,339.3 557.0,337.8 559.0,336.3 561.0,334.7 563.0,333.2 564.9,331.6 566.8,330.0 568.7,328.3 570.5,326.6 572.3,324.9 574.1,323.1 575.8,321.3 577.4,319.4 579.1,317.5 580.7,315.7 582.4,313.7 584.0,311.8 585.6,309.9 587.1,307.9 588.7,306.0 590.2,304.0 591.7,302.0 593.2,300.0 594.7,298.0 596.2,296.0 597.6,294.0 599.1,291.9 600.5,289.9 602.0,287.8 603.4,285.8 604.8,283.7 606.2,281.7 607.6,279.6 609.0,277.5 610.4,275.5 611.9,273.4 613.3,271.3 614.7,269.3 616.1,267.2 617.5,265.2 619.0,263.1 620.4,261.1 621.9,259.1 623.3,257.0 624.8,255.0 626.2,252.9 627.7,250.9 629.1,248.8 630.5,246.8 632.0,244.8 633.4,242.7 634.9,240.7 636.4,238.7 637.9,236.7 639.4,234.7 641.0,232.8 642.5,230.8 644.1,228.8 645.6,226.9 647.1,224.9 648.6,222.9 650.1,220.8 651.5,218.8 653.0,216.8 654.5,214.8 655.9,212.7 657.5,210.8 659.0,208.8 660.6,206.9 662.3,205.0 664.0,203.2 665.8,201.4 667.6,199.7 669.4,198.0 671.2,196.3 673.1,194.6 675.0,193.0 676.8,191.3 678.7,189.6 680.6,188.0 682.4,186.3 684.3,184.6 686.2,183.0 688.0,181.3 689.9,179.6 691.7,177.9 693.5,176.2 695.4,174.6 697.2,172.9 699.1,171.2 701.0,169.6 702.9,167.9 704.8,166.4 706.8,164.8 708.8,163.4 710.9,161.9 713.0,160.6 715.2,159.4 717.4,158.2 719.6,157.1 721.9,156.0 724.2,155.0 726.5,154.0 728.8,153.2 731.2,152.4 733.6,151.7 736.0,151.1 738.5,150.6 740.9,150.2 743.4,150.0 745.9,150.0 748.4,150.1 750.9,150.4 753.4,150.9 755.8,151.6 758.1,152.3 760.5,153.2 762.8,154.2 765.0,155.4 767.2,156.6 769.3,157.8 771.5,159.2 773.5,160.6 775.6,162.0 777.6,163.5 779.5,165.1 781.3,166.8 783.2,168.5 784.9,170.3 786.6,172.1 788.2,174.0 789.8,176.0 791.4,177.9 792.9,179.9 794.4,181.9 795.8,184.0 797.2,186.1 798.6,188.2 799.9,190.3 801.2,192.4 802.5,194.5 803.8,196.7 805.0,198.8 806.3,201.0 807.5,203.2 808.8,205.3 810.0,207.5 811.3,209.7 812.5,211.9 813.7,214.1 814.9,216.3 816.0,218.5 817.2,220.7 818.4,222.9 819.6,225.1 820.8,227.2 822.1,229.4 823.3,231.6 824.6,233.7 825.9,235.9 827.2,238.0 828.5,240.2 829.7,242.3 831.0,244.5 832.3,246.6 833.6,248.8 834.9,250.9 836.1,253.0 837.4,255.2 838.8,257.3 840.1,259.4 841.5,261.5 843.0,263.5 844.4,265.5 846.0,267.5 847.5,269.5 849.0,271.5 850.6,273.4 852.2,275.4 853.7,277.3 855.3,279.3 856.9,281.2 858.4,283.1 860.0,285.1 861.7,287.0 863.3,288.8 865.1,290.6 866.9,292.3 868.8,294.0 870.7,295.6 872.7,297.1 874.7,298.6 876.8,300.0 878.9,301.3 881.0,302.6 883.2,303.9 885.3,305.1 887.5,306.3 889.8,307.5 892.0,308.6 894.3,309.6 896.6,310.6 898.9,311.5 901.2,312.4 903.6,313.2 906.0,313.9 908.4,314.6 910.8,315.3 913.2,315.9 915.7,316.4 918.1,316.9 920.6,317.4 923.0,317.8 925.5,318.2 928.0,318.6 930.5,318.9 933.0,319.1 935.4,319.3 937.9,319.5 940.4,319.6 942.9,319.7 945.4,319.7 947.9,319.7 950.4,319.7 952.9,319.7 955.4,319.6 957.9,319.6 960.4,319.5 962.9,319.3 965.4,319.2 967.9,319.0 970.4,318.8 972.9,318.6 975.4,318.4 977.9,318.2 980.4,317.9 982.9,317.7 985.3,317.5 987.8,317.2 990.3,317.0 992.8,316.8 995.3,316.5 997.8,316.3 1000.3,316.0 1002.8,315.7 1005.2,315.5 1007.7,315.2 1010.2,314.8 1012.7,314.5 1015.2,314.2 1017.6,313.9 1020.1,313.5 1022.6,313.1 1025.1,312.8 1027.5,312.4 1030.0,312.0 1032.5,311.7 1035.0,311.3 1037.4,310.9 1039.9,310.5 1042.4,310.0 1044.8,309.6 1047.3,309.2 1049.7,308.8 1052.2,308.3 1054.7,307.9 1057.1,307.4 1059.6,307.0 1062.0,306.6 1064.5,306.1 1067.0,305.7 1069.4,305.3 1071.9,304.8 1074.4,304.4 1076.8,304.0 1079.3,303.5 1081.7,303.1 1084.2,302.7 1086.7,302.2 1089.1,301.8 1091.6,301.3 1094.0,300.9 1096.5,300.4 1099.0,299.9 1101.4,299.4 1103.9,299.0 1106.3,298.5 1108.8,298.0 1111.2,297.4 1113.7,296.9 1116.1,296.5 1118.6,296.0 1121.0,295.5 1123.5,295.1 1126.0,294.7 1128.4,294.4 1130.9,294.0 1133.4,293.7 1135.9,293.3 1138.3,293.0 1140.8,292.6 1143.3,292.2 1145.7,291.7 1148.2,291.1 1150.6,290.5 1153.0,289.9 1155.4,289.2 1157.8,288.5 1160.2,287.7 1162.6,287.0 1164.9,286.2 1167.3,285.4 1169.7,284.7 1172.1,283.9 1174.5,283.2 1176.9,282.5 1179.3,281.8 1181.7,281.1 1184.1,280.5 1186.5,279.8 1188.9,279.2 1191.4,278.6 1193.8,277.9 1196.2,277.3 1198.6,276.7 1201.0,276.1 1203.5,275.5 1205.9,274.9 1208.3,274.3 1210.8,273.7 1213.2,273.1 1215.6,272.5 1218.0,271.9 1220.5,271.4 1222.9,270.8 1225.4,270.3 1227.8,269.7 1230.2,269.2 1232.7,268.7 1235.1,268.2 1237.6,267.8 1240.1,267.3 1242.5,266.9 1242.0,269.4 1241.6,271.8 1241.1,274.3 1240.6,276.7 1240.1,279.2 1239.6,281.6 1239.0,284.1 1238.5,286.5 1237.9,288.9 1237.3,291.4 1236.7,293.8 1236.0,296.2 1235.4,298.6 1234.7,301.0 1233.9,303.4 1233.2,305.8 1232.4,308.1 1231.6,310.5 1230.8,312.9 1230.0,315.2 1229.1,317.6 1228.3,320.0 1227.5,322.3 1226.6,324.6 1225.7,327.0 1224.8,329.3 1224.0,331.7 1223.1,334.0 1222.2,336.3 1221.3,338.7 1220.5,341.0 1219.6,343.4 1218.8,345.8 1218.0,348.1 1217.2,350.5 1216.4,352.9 1215.6,355.2 1214.8,357.6 1214.0,360.0 1213.2,362.3 1212.3,364.7 1211.4,367.0 1210.5,369.3 1209.6,371.7 1208.6,374.0 1207.7,376.3 1206.7,378.6 1205.8,380.9 1204.9,383.2 1203.9,385.5 1203.0,387.9 1202.1,390.2 1201.2,392.5 1200.2,394.8 1199.3,397.2 1198.4,399.5 1197.4,401.8 1196.3,404.1 1195.2,406.3 1194.0,408.5 1192.8,410.7 1191.5,412.8 1190.1,414.9 1188.6,416.9 1187.1,418.9 1185.6,420.9 1184.1,422.9 1182.6,424.8 1181.1,426.8 1179.6,428.9 1178.1,430.9 1176.7,433.0 1175.4,435.1 1174.1,437.2 1172.9,439.4 1171.7,441.6 1170.5,443.8 1169.3,446.0 1168.1,448.2 1166.8,450.3 1165.5,452.5 1164.1,454.5 1162.6,456.5 1161.1,458.5 1159.4,460.4 1157.8,462.2 1156.0,464.1 1154.3,465.9 1152.5,467.6 1150.8,469.4 1149.0,471.2 1147.3,473.0 1145.5,474.7 1143.7,476.5 1141.9,478.2 1140.1,479.9 1138.2,481.6 1136.3,483.2 1134.4,484.8 1132.4,486.2 1130.3,487.6 1128.1,488.9 1125.9,490.0 1123.6,491.1 1121.3,492.0 1118.9,492.8 1116.5,493.5 1114.1,494.2 1111.7,494.8 1109.3,495.5 1106.9,496.2 1104.5,497.0 1102.2,497.8 1099.8,498.7 1097.5,499.6 1095.2,500.5 1092.9,501.5 1090.6,502.5 1088.3,503.5 1086.0,504.4 1083.6,505.3 1081.3,506.2 1078.9,507.0 1076.6,507.8 1074.2,508.6 1071.8,509.4 1069.4,510.1 1067.1,510.9 1064.7,511.6 1062.3,512.3 1059.9,513.0 1057.5,513.7 1055.0,514.4 1052.6,515.0 1050.2,515.6 1047.8,516.2 1045.3,516.8 1042.9,517.4 1040.5,517.9 1038.0,518.5 1035.6,519.0 1033.1,519.5 1030.7,520.0 1028.2,520.5 1025.8,520.9 1023.3,521.4 1020.9,521.8 1018.4,522.2 1015.9,522.6 1013.5,523.0 1011.0,523.4 1008.5,523.8 1006.0,524.2 1003.6,524.6 1001.1,525.0 998.6,525.4 996.2,525.8 993.7,526.1 991.2,526.5 988.8,526.9 986.3,527.3 983.8,527.6 981.3,528.0 978.9,528.3 976.4,528.7 973.9,529.0 971.4,529.3 968.9,529.6 966.5,530.0 964.0,530.3 961.5,530.6 959.0,530.9 956.5,531.2 954.1,531.5 951.6,531.9 949.1,532.2 946.6,532.5 944.2,532.9 941.7,533.2 939.2,533.5 936.7,533.7 934.2,534.0 931.7,534.2 929.2,534.5 926.8,534.7 924.3,534.9 921.8,535.1 919.3,535.3 916.8,535.5 914.3,535.6 911.8,535.8 909.3,536.0 906.8,536.1 904.3,536.2 901.8,536.3 899.3,536.4 896.8,536.5 894.3,536.6 891.8,536.6 889.3,536.7 886.8,536.7 884.3,536.8 881.8,536.8 879.3,536.9 876.8,536.9 874.3,536.9 871.8,536.9 869.3,536.9 866.8,537.0 864.3,537.0 861.8,537.0 859.3,537.0 856.8,537.0 854.3,537.0 851.8,536.9 849.3,536.9 846.8,536.9 844.3,536.9 841.8,536.9 839.3,536.8 836.8,536.8 834.3,536.8 831.8,536.7 829.3,536.7 826.8,536.6 824.3,536.6 821.8,536.6 819.3,536.5 816.8,536.5 814.3,536.5 811.8,536.5 809.3,536.5 806.8,536.5 804.3,536.5 801.8,536.5 799.3,536.5 796.8,536.6 794.3,536.6 791.8,536.7 789.3,536.7 786.8,536.8 784.3,536.9 781.8,537.0 779.3,537.1 776.8,537.2 774.3,537.4 771.8,537.5 769.3,537.6 766.8,537.8 764.3,537.9 761.9,538.1 759.4,538.2 756.9,538.4 754.4,538.6 751.9,538.8 749.4,539.1 746.9,539.3 744.4,539.6 741.9,539.9 739.5,540.3 737.0,540.6 734.5,541.0 732.1,541.4 729.6,541.9 727.2,542.4 724.7,542.9 722.3,543.5 719.9,544.1 717.4,544.8 715.0,545.5 712.6,546.2 710.3,547.0 707.9,547.8 705.5,548.6 703.2,549.4 700.9,550.3 698.5,551.2 696.2,552.2 693.9,553.2 691.6,554.2 689.4,555.3 687.1,556.3 684.9,557.5 682.7,558.7 680.5,559.9 678.3,561.1 676.2,562.4 674.1,563.8 672.0,565.1 669.9,566.5 667.9,568.0 665.9,569.5 663.9,571.0 661.9,572.5 659.9,573.9 657.8,575.4 655.7,576.8 653.6,578.1 651.5,579.4 649.4,580.7 647.2,581.9 645.0,583.2 642.8,584.4 640.6,585.6 638.4,586.8 636.3,588.1 634.2,589.4 632.0,590.7 629.9,592.1 627.8,593.4 625.8,594.8 623.7,596.2 621.6,597.7 619.6,599.1 617.6,600.6 615.6,602.1 613.6,603.6 611.6,605.1 609.6,606.6 607.6,608.1 605.6,609.6 603.7,611.2 601.7,612.7 599.7,614.2 597.7,615.8 595.8,617.3 593.8,618.8 591.8,620.4 589.8,621.9 587.8,623.4 585.9,624.9 583.9,626.5 581.9,628.0 579.9,629.5 578.0,631.1 576.0,632.6 574.1,634.2 572.2,635.8 570.2,637.4 568.3,639.0 566.4,640.6 564.5,642.3 562.6,643.9 560.7,645.5 558.8,647.2 556.9,648.8 555.0,650.4 553.2,652.1 551.3,653.7 549.4,655.3 547.5,656.9 545.6,658.6 543.7,660.2 541.7,661.8 539.8,663.4 537.9,665.0 535.9,666.5 534.0,668.1 532.0,669.6 530.0,671.2 528.1,672.7 526.1,674.2 524.1,675.7 522.0,677.2 520.0,678.6 518.0,680.1 515.9,681.5 513.9,682.9 511.8,684.4 509.8,685.8 507.7,687.2 505.6,688.6 503.6,690.0 501.5,691.5 499.5,693.0 497.5,694.5 495.6,696.0 493.6,697.5 491.7,699.1 489.7,700.7 487.8,702.3 485.9,703.9 484.0,705.6 482.1,707.2 480.2,708.8 478.3,710.5 476.5,712.2 474.6,713.8 472.8,715.5 470.9,717.1 469.0,718.8 467.1,720.4 465.2,722.0 463.3,723.6 461.3,725.2 459.5,726.9 457.6,728.5 455.7,730.2 453.9,731.9 452.1,733.6 450.3,735.4 448.5,737.1 446.7,738.9 445.0,740.7 443.2,742.4 441.5,744.2 439.8,746.0 438.1,747.9 436.4,749.7 434.7,751.6 433.0,753.4 431.3,755.2 429.6,757.0 427.8,758.8 426.0,760.5 424.1,762.2 422.2,763.8 420.2,765.3 418.0,766.6 415.8,767.6 413.4,768.4 410.9,768.8 408.5,768.8 406.0,768.2 403.7,767.3 401.6,766.0 399.6,764.5 397.7,762.8 396.0,761.0 394.4,759.1 392.8,757.1 391.3,755.2 389.8,753.1 388.4,751.1 387.0,749.0 385.8,746.8 384.6,744.6 383.5,742.4 382.5,740.1 381.5,737.8 380.6,735.5 379.6,733.2 378.7,730.8 377.8,728.5 377.0,726.1 376.1,723.8 375.2,721.4 374.4,719.1 373.6,716.7 372.7,714.4 371.9,712.0 371.1,709.7 370.3,707.3 369.4,704.9 368.6,702.6 367.8,700.2 367.1,697.8 366.3,695.5 365.5,693.1 364.7,690.7 364.0,688.3 363.2,685.9 362.4,683.6 361.7,681.2 360.9,678.8 360.2,676.4 359.4,674.0 358.6,671.6 357.9,669.3 357.1,666.9 356.4,664.5 355.6,662.1 354.8,659.8 354.0,657.4 353.2,655.0 352.4,652.7 351.6,650.3 350.7,647.9 349.9,645.6 349.0,643.2 348.2,640.9 347.3,638.5 346.5,636.2 345.6,633.8 344.7,631.5 343.8,629.2 342.9,626.8 342.0,624.5 341.1,622.2 340.2,619.9 339.2,617.6 338.2,615.3 337.2,613.0 336.2,610.7 335.2,608.4 334.2,606.1 333.1,603.8 332.1,601.6 331.0,599.3 330.0,597.0 328.9,594.8 327.8,592.5 326.7,590.3 325.6,588.1 324.4,585.9 323.2,583.7 322.0,581.5 320.8,579.3 319.5,577.1 318.2,575.0 316.9,572.9 315.5,570.8 314.1,568.7 312.5,566.8 310.9,564.9 309.2,563.1 307.4,561.3 305.6,559.6 303.7,558.0 301.8,556.4 299.8,554.8 297.8,553.3 295.9,551.7 293.9,550.2 291.9,548.7 289.9,547.2 287.9,545.7 285.8,544.3 283.7,542.9 281.6,541.6 279.5,540.3 277.3,539.0 275.1,537.8 272.9,536.6 270.7,535.5 268.5,534.3 266.2,533.3 264.0,532.2 261.7,531.2 259.4,530.3 257.0,529.3 254.7,528.5 252.3,527.6 250.0,526.8 247.6,526.0 245.2,525.2 242.9,524.4 240.5,523.6 238.1,522.9 235.7,522.1 233.3,521.4 231.0,520.6 228.6,519.9 226.2,519.2 223.8,518.5 221.4,517.7 219.1,516.8 216.8,515.8 214.5,514.7 212.4,513.4 210.4,511.9 209.5,510.0" stroke="#ff0000"/>
<path d="M209.5,577.0 209.5,574.5 209.6,572.0 209.6,569.5 209.7,567.0 209.7,564.5 209.7,562.0 209.7,559.5 209.8,557.0 209.9,554.5 210.0,552.0 210.2,549.5 210.4,547.0 210.6,544.5 211.0,542.1 211.3,539.6 211.8,537.1 212.3,534.7 212.8,532.2 213.5,529.8 214.2,527.4 214.9,525.0 215.7,522.7 216.6,520.3 217.4,518.0 218.3,515.6 219.2,513.3 220.1,511.0 221.0,508.6 221.8,506.3 222.6,503.9 223.4,501.5 224.2,499.1 224.9,496.8 225.7,494.4 226.5,492.0 227.4,489.7 228.2,487.3 229.2,485.0 230.1,482.7 231.2,480.4 232.2,478.2 233.4,475.9 234.5,473.7 235.7,471.5 237.0,469.4 238.3,467.2 239.6,465.1 240.9,463.0 242.3,460.9 243.7,458.8 245.2,456.8 246.6,454.8 248.2,452.8 249.8,450.9 251.5,449.0 253.2,447.2 255.0,445.5 256.8,443.8 258.7,442.2 260.6,440.6 262.6,439.1 264.7,437.6 266.7,436.2 268.8,434.8 270.9,433.5 273.0,432.2 275.2,430.9 277.3,429.6 279.5,428.3 281.6,427.0 283.8,425.8 286.0,424.6 288.2,423.5 290.5,422.4 292.8,421.4 295.1,420.5 297.5,419.7 299.9,419.0 302.3,418.3 304.7,417.7 307.1,417.1 309.6,416.5 312.0,415.9 314.4,415.3 316.8,414.7 319.3,414.1 321.7,413.5 324.1,412.9 326.6,412.3 329.0,411.7 331.4,411.1 333.8,410.5 336.3,410.0 338.7,409.4 341.2,408.9 343.6,408.4 346.1,407.9 348.5,407.4 351.0,407.0 353.4,406.5 355.9,406.1 358.4,405.7 360.8,405.2 363.3,404.8 365.8,404.4 368.2,403.9 370.7,403.4 373.1,403.0 375.6,402.5 378.0,401.9 380.5,401.4 382.9,400.8 385.3,400.3 387.8,399.7 390.2,399.1 392.6,398.5 395.0,397.9 397.5,397.3 399.9,396.6 402.3,395.9 404.7,395.2 407.1,394.5 409.5,393.8 411.8,393.0 414.2,392.3 416.6,391.5 419.0,390.8 421.4,390.0 423.8,389.3 426.2,388.5 428.5,387.8 430.9,387.1 433.3,386.3 435.7,385.6 438.1,384.9 440.5,384.1 442.9,383.4 445.3,382.6 447.6,381.8 450.0,381.0 452.3,380.1 454.7,379.2 457.0,378.3 459.3,377.3 461.6,376.3 463.9,375.3 466.1,374.2 468.4,373.1 470.6,372.1 472.9,371.0 475.1,369.9 477.4,368.8 479.7,367.7 481.9,366.7 484.2,365.6 486.5,364.6 488.7,363.5 491.0,362.5 493.2,361.3 495.4,360.2 497.6,359.0 499.8,357.7 501.9,356.4 504.0,355.0 506.0,353.6 508.1,352.1 510.1,350.7 512.1,349.2 514.1,347.7 516.1,346.2 518.1,344.7 520.1,343.2 522.1,341.7 524.1,340.2 526.1,338.7 528.1,337.2 530.1,335.7 532.1,334.2 534.2,332.8 536.2,331.3 538.3,330.0 540.4,328.6 542.5,327.2 544.6,325.9 546.7,324.5 548.8,323.2 550.9,321.9 553.0,320.5 555.2,319.2 557.3,317.8 559.3,316.4 561.4,315.0 563.5,313.6 565.5,312.2 567.5,310.7 569.5,309.1 571.4,307.5 573.3,305.9 575.1,304.2 577.0,302.5 578.8,300.8 580.6,299.0 582.3,297.3 584.1,295.5 585.8,293.7 587.5,291.9 589.3,290.1 591.0,288.2 592.7,286.4 594.3,284.6 596.0,282.7 597.6,280.8 599.3,278.9 600.8,277.0 602.4,275.0 604.0,273.0 605.5,271.1 607.0,269.1 608.5,267.1 610.0,265.1 611.5,263.1 613.0,261.1 614.5,259.1 616.0,257.1 617.5,255.1 619.0,253.1 620.5,251.1 622.0,249.0 623.4,247.0 624.9,245.0 626.3,242.9 627.8,240.9 629.1,238.8 630.5,236.7 631.9,234.6 633.2,232.5 634.5,230.4 635.9,228.3 637.2,226.2 638.6,224.1 639.9,222.0 641.3,219.9 642.7,217.8 644.1,215.7 645.5,213.6 646.8,211.6 648.2,209.5 649.6,207.4 651.0,205.3 652.4,203.2 653.8,201.1 655.2,199.1 656.6,197.0 658.0,195.0 659.5,193.0 661.0,191.0 662.5,189.0 664.1,187.0 665.6,185.0 667.1,183.0 668.6,181.1 670.2,179.1 671.7,177.1 673.2,175.1 674.8,173.2 676.3,171.2 677.9,169.3 679.5,167.3 681.1,165.4 682.7,163.5 684.3,161.6 685.9,159.7 687.5,157.8 689.1,155.8 690.7,153.9 692.3,152.0 693.9,150.1 695.5,148.1 697.1,146.2 698.6,144.2 700.2,142.3 701.8,140.3 703.3,138.4 704.9,136.4 706.4,134.5 708.0,132.5 709.5,130.5 711.1,128.6 712.7,126.6 714.2,124.7 715.8,122.8 717.4,120.8 719.0,118.9 720.6,117.0 722.2,115.0 723.8,113.1 725.4,111.2 727.0,109.3 728.6,107.3 730.1,105.4 731.7,103.5 733.3,101.6 734.9,99.6 736.5,97.7 738.1,95.8 739.8,93.9 741.4,92.0 743.1,90.2 744.8,88.3 746.5,86.5 748.3,84.7 750.0,83.0 751.8,81.3 753.7,79.6 755.5,77.9 757.4,76.3 759.4,74.7 761.3,73.1 763.3,71.6 765.3,70.1 767.4,68.7 769.5,67.4 771.7,66.2 773.9,65.0 776.1,63.9 778.4,62.9 780.8,62.0 783.1,61.1 785.5,60.3 787.9,59.7 790.3,59.1 792.8,58.6 795.3,58.3 797.7,58.0 800.2,58.0 802.7,58.1 805.2,58.4 807.7,58.9 810.1,59.5 812.5,60.3 814.8,61.3 817.0,62.3 819.3,63.5 821.4,64.8 823.5,66.1 825.5,67.6 827.5,69.2 829.3,70.8 831.1,72.6 832.8,74.4 834.5,76.3 836.0,78.2 837.6,80.2 839.0,82.2 840.5,84.3 842.0,86.3 843.4,88.3 844.8,90.4 846.2,92.5 847.6,94.6 848.9,96.7 850.2,98.8 851.4,101.0 852.6,103.2 853.8,105.4 855.0,107.6 856.2,109.8 857.3,112.0 858.5,114.2 859.7,116.4 860.9,118.6 862.1,120.8 863.3,123.0 864.5,125.2 865.7,127.4 866.9,129.6 868.1,131.8 869.3,134.0 870.4,136.2 871.6,138.4 872.7,140.7 873.7,142.9 874.8,145.2 875.8,147.5 876.8,149.8 877.8,152.1 878.8,154.3 879.8,156.6 880.9,158.9 882.0,161.2 883.1,163.4 884.2,165.6 885.4,167.8 886.6,170.0 887.8,172.2 889.0,174.4 890.3,176.6 891.5,178.7 892.7,180.9 893.9,183.1 895.1,185.3 896.3,187.5 897.5,189.7 898.8,191.9 900.0,194.0 901.2,196.2 902.3,198.4 903.5,200.6 904.7,202.8 905.9,205.0 907.1,207.2 908.4,209.4 909.7,211.5 911.0,213.6 912.4,215.7 913.8,217.8 915.3,219.8 916.8,221.8 918.4,223.7 920.0,225.6 921.6,227.5 923.3,229.4 925.0,231.2 926.7,233.0 928.5,234.8 930.3,236.5 932.2,238.2 934.0,239.9 936.0,241.5 937.9,243.0 939.9,244.5 941.9,246.0 944.0,247.4 946.1,248.7 948.3,250.0 950.4,251.2 952.6,252.4 954.9,253.6 957.1,254.7 959.4,255.7 961.6,256.8 963.9,257.8 966.2,258.7 968.6,259.6 970.9,260.5 973.3,261.4 975.6,262.2 978.0,262.9 980.4,263.6 982.8,264.2 985.3,264.8 987.7,265.4 990.2,265.9 992.6,266.4 995.1,266.9 997.5,267.4 1000.0,267.8 1002.4,268.3 1004.9,268.7 1007.4,269.0 1009.8,269.4 1012.3,269.7 1014.8,269.9 1017.3,270.2 1019.8,270.4 1022.3,270.5 1024.8,270.7 1027.3,270.8 1029.8,270.9 1032.3,270.9 1034.8,271.0 1037.3,270.9 1039.8,270.9 1042.3,270.8 1044.8,270.7 1047.3,270.5 1049.8,270.3 1052.2,270.1 1054.7,269.8 1057.2,269.6 1059.7,269.3 1062.2,269.1 1064.7,268.8 1067.2,268.6 1069.7,268.3 1072.1,268.0 1074.6,267.8 1077.1,267.6 1079.6,267.3 1082.1,267.1 1084.6,266.8 1087.1,266.6 1089.6,266.3 1092.0,266.0 1094.5,265.7 1097.0,265.4 1099.5,265.1 1102.0,264.7 1104.4,264.4 1106.9,264.0 1109.4,263.6 1111.8,263.2 1114.3,262.9 1116.8,262.5 1119.3,262.2 1121.8,261.9 1124.2,261.6 1126.7,261.3 1129.2,261.1 1131.7,260.8 1134.2,260.6 1136.7,260.3 1139.2,260.0 1141.6,259.7 1144.1,259.4 1146.6,259.0 1149.1,258.7 1151.5,258.3 1154.0,257.8 1156.5,257.4 1158.9,257.0 1161.4,256.6 1163.9,256.2 1166.3,255.8 1168.8,255.4 1171.3,255.0 1173.7,254.5 1176.2,254.1 1178.6,253.7 1181.1,253.3 1183.6,252.9 1186.0,252.4 1188.5,252.0 1191.0,251.6 1193.4,251.1 1195.9,250.6 1198.3,250.2 1200.8,249.7 1203.2,249.2 1205.7,248.8 1208.2,248.3 1210.6,247.8 1213.1,247.4 1215.5,246.9 1218.0,246.5 1220.4,246.0 1222.9,245.6 1225.4,245.1 1227.8,244.7 1230.3,244.3 1232.8,243.8 1235.2,243.4 1237.7,243.0 1240.1,242.5 1241.5,242.3 1241.1,244.8 1240.6,247.2 1240.2,249.7 1239.7,252.1 1239.2,254.6 1238.7,257.0 1238.2,259.5 1237.6,261.9 1237.0,264.3 1236.4,266.8 1235.8,269.2 1235.2,271.6 1234.5,274.0 1233.8,276.4 1233.1,278.8 1232.3,281.2 1231.5,283.6 1230.7,285.9 1229.9,288.3 1229.1,290.7 1228.2,293.0 1227.4,295.4 1226.6,297.7 1225.7,300.1 1224.9,302.4 1224.1,304.8 1223.3,307.2 1222.5,309.6 1221.8,311.9 1221.0,314.3 1220.2,316.7 1219.4,319.1 1218.7,321.4 1217.9,323.8 1217.1,326.2 1216.2,328.5 1215.4,330.9 1214.6,333.3 1213.8,335.6 1213.0,338.0 1212.2,340.4 1211.5,342.8 1210.7,345.1 1210.0,347.5 1209.2,349.9 1208.5,352.3 1207.7,354.7 1206.8,357.0 1206.0,359.4 1205.0,361.7 1204.1,364.0 1203.1,366.3 1202.1,368.6 1201.1,370.9 1200.1,373.2 1199.1,375.5 1198.1,377.8 1197.2,380.1 1196.2,382.4 1195.3,384.7 1194.4,387.0 1193.4,389.3 1192.4,391.6 1191.4,393.9 1190.3,396.2 1189.2,398.4 1188.1,400.7 1186.9,402.9 1185.7,405.1 1184.5,407.2 1183.2,409.4 1181.9,411.5 1180.5,413.6 1179.2,415.7 1177.8,417.8 1176.3,419.8 1174.9,421.9 1173.5,423.9 1172.1,426.0 1170.6,428.0 1169.3,430.1 1167.9,432.2 1166.5,434.3 1165.2,436.4 1163.9,438.6 1162.7,440.7 1161.4,442.9 1160.2,445.1 1159.0,447.3 1157.7,449.4 1156.4,451.6 1155.1,453.7 1153.7,455.8 1152.3,457.8 1150.9,459.9 1149.4,461.9 1147.9,463.9 1146.3,465.8 1144.7,467.8 1143.1,469.7 1141.4,471.5 1139.7,473.3 1137.9,475.1 1136.1,476.8 1134.2,478.5 1132.3,480.0 1130.3,481.5 1128.3,483.0 1126.2,484.4 1124.1,485.8 1122.0,487.1 1119.9,488.5 1117.8,489.8 1115.6,491.1 1113.5,492.4 1111.4,493.7 1109.2,495.0 1107.1,496.3 1105.0,497.6 1102.8,498.9 1100.7,500.2 1098.5,501.4 1096.4,502.7 1094.2,504.0 1092.1,505.2 1089.9,506.5 1087.7,507.7 1085.5,508.9 1083.3,510.1 1081.2,511.3 1079.0,512.5 1076.8,513.7 1074.6,514.9 1072.3,516.1 1070.1,517.2 1067.9,518.3 1065.6,519.4 1063.4,520.5 1061.1,521.5 1058.8,522.6 1056.5,523.6 1054.2,524.5 1051.9,525.5 1049.6,526.4 1047.3,527.3 1044.9,528.2 1042.6,529.1 1040.2,530.0 1037.9,530.8 1035.5,531.7 1033.2,532.5 1030.8,533.3 1028.5,534.2 1026.1,535.0 1023.7,535.8 1021.4,536.6 1019.0,537.4 1016.6,538.1 1014.2,538.8 1011.8,539.6 1009.4,540.2 1007.0,540.9 1004.6,541.5 1002.2,542.1 999.7,542.7 997.3,543.2 994.8,543.8 992.4,544.3 989.9,544.7 987.5,545.2 985.0,545.6 982.6,546.1 980.1,546.6 977.7,547.1 975.2,547.5 972.7,548.0 970.3,548.5 967.8,548.9 965.4,549.3 962.9,549.7 960.4,550.1 958.0,550.5 955.5,550.8 953.0,551.1 950.5,551.4 948.0,551.7 945.5,552.0 943.1,552.3 940.6,552.6 938.1,552.9 935.6,553.2 933.1,553.4 930.6,553.7 928.2,554.0 925.7,554.3 923.2,554.5 920.7,554.8 918.2,555.1 915.7,555.3 913.2,555.6 910.8,555.8 908.3,556.0 905.8,556.2 903.3,556.4 900.8,556.5 898.3,556.7 895.8,556.8 893.3,557.0 890.8,557.1 888.3,557.2 885.8,557.3 883.3,557.4 880.8,557.5 878.3,557.6 875.8,557.8 873.3,557.9 870.8,558.0 868.3,558.1 865.8,558.2 863.3,558.4 860.8,558.5 858.3,558.6 855.8,558.8 853.3,558.9 850.8,559.0 848.3,559.1 845.9,559.3 843.4,559.4 840.9,559.5 838.4,559.6 835.9,559.7 833.4,559.8 830.9,559.9 828.4,560.0 825.9,560.1 823.4,560.2 820.9,560.3 818.4,560.4 815.9,560.5 813.4,560.5 810.9,560.6 808.4,560.6 805.9,560.7 803.4,560.7 800.9,560.8 798.4,560.8 795.9,560.9 793.4,560.9 790.9,561.0 788.4,561.1 785.9,561.2 783.4,561.3 780.9,561.4 778.4,561.5 775.9,561.7 773.4,561.8 770.9,561.9 768.4,562.0 765.9,562.2 763.4,562.3 760.9,562.5 758.4,562.6 755.9,562.8 753.4,563.1 751.0,563.3 748.5,563.5 746.0,563.8 743.5,564.0 741.0,564.3 738.5,564.5 736.0,564.8 733.5,565.1 731.1,565.3 728.6,565.6 726.1,566.0 723.6,566.3 721.2,566.8 718.7,567.2 716.2,567.7 713.8,568.2 711.4,568.8 708.9,569.3 706.5,570.0 704.1,570.7 701.7,571.4 699.3,572.1 697.0,572.9 694.6,573.7 692.2,574.6 689.9,575.5 687.6,576.4 685.3,577.3 683.0,578.3 680.7,579.4 678.4,580.4 676.2,581.5 673.9,582.5 671.7,583.6 669.4,584.7 667.1,585.8 664.9,586.9 662.6,587.9 660.4,589.0 658.1,590.0 655.8,591.1 653.6,592.1 651.3,593.2 649.0,594.2 646.7,595.3 644.5,596.3 642.2,597.4 640.0,598.5 637.7,599.6 635.5,600.7 633.3,601.9 631.1,603.0 628.8,604.2 626.6,605.4 624.4,606.6 622.3,607.8 620.1,609.0 617.9,610.3 615.8,611.6 613.7,612.9 611.6,614.3 609.5,615.6 607.4,617.0 605.3,618.4 603.3,619.8 601.2,621.2 599.1,622.6 597.1,624.0 595.0,625.4 592.9,626.9 590.9,628.3 588.9,629.8 586.9,631.3 584.9,632.8 583.0,634.4 581.1,636.1 579.2,637.7 577.4,639.4 575.5,641.1 573.7,642.8 571.8,644.4 570.0,646.1 568.1,647.8 566.2,649.4 564.3,651.0 562.4,652.6 560.4,654.2 558.5,655.8 556.6,657.4 554.7,659.0 552.8,660.6 550.8,662.2 548.9,663.8 546.9,665.3 545.0,666.9 543.0,668.5 541.1,670.0 539.1,671.6 537.1,673.1 535.2,674.7 533.2,676.2 531.2,677.7 529.3,679.3 527.3,680.8 525.3,682.3 523.3,683.8 521.3,685.4 519.4,686.9 517.4,688.4 515.4,690.0 513.4,691.5 511.5,693.0 509.5,694.6 507.6,696.2 505.6,697.7 503.7,699.3 501.7,700.9 499.8,702.5 497.9,704.1 496.0,705.7 494.2,707.4 492.3,709.1 490.4,710.7 488.6,712.4 486.7,714.1 484.9,715.8 483.1,717.5 481.2,719.2 479.4,720.9 477.5,722.5 475.7,724.2 473.8,725.9 472.0,727.6 470.1,729.3 468.3,730.9 466.4,732.6 464.6,734.4 462.8,736.1 461.0,737.8 459.2,739.6 457.5,741.4 455.7,743.2 454.0,745.0 452.3,746.8 450.7,748.7 449.0,750.6 447.4,752.5 445.8,754.4 444.3,756.4 442.7,758.4 441.2,760.3 439.7,762.4 438.3,764.4 436.8,766.4 435.4,768.4 433.9,770.5 432.5,772.6 431.1,774.6 429.7,776.7 428.3,778.8 427.0,780.9 425.7,783.0 424.3,785.1 423.0,787.3 421.7,789.4 420.4,791.5 419.1,793.7 417.9,795.8 416.6,798.0 415.3,800.1 414.0,802.2 412.6,804.3 411.3,806.5 410.0,808.6 408.6,810.7 407.3,812.8 406.0,814.9 404.6,817.0 403.3,819.2 402.0,821.3 400.6,823.4 399.3,825.5 398.0,827.6 396.6,829.7 395.3,831.8 393.9,833.9 392.5,836.0 391.1,838.1 389.7,840.1 388.3,842.2 386.8,844.2 385.4,846.3 384.0,848.3 382.5,850.3 381.1,852.4 379.6,854.4 378.1,856.4 376.7,858.5 375.2,860.5 373.7,862.5 372.2,864.5 370.6,866.4 369.1,868.4 367.5,870.3 365.9,872.3 364.3,874.1 362.6,876.0 360.9,877.8 359.1,879.6 357.2,881.3 355.3,882.9 353.4,884.4 351.3,885.8 349.1,887.0 346.8,887.9 344.4,888.7 341.9,889.2 339.4,889.3 336.9,889.2 334.5,888.7 332.1,887.9 329.9,886.8 327.8,885.5 325.8,883.9 324.0,882.2 322.3,880.4 320.7,878.4 319.3,876.4 317.9,874.3 316.6,872.2 315.4,870.0 314.2,867.8 313.0,865.6 311.9,863.3 310.9,861.1 309.9,858.8 308.9,856.5 308.0,854.2 307.0,851.8 306.1,849.5 305.2,847.2 304.2,844.9 303.3,842.6 302.4,840.2 301.5,837.9 300.6,835.6 299.7,833.2 298.8,830.9 298.0,828.5 297.2,826.2 296.5,823.8 295.8,821.4 295.0,819.0 294.4,816.6 293.7,814.2 293.0,811.8 292.4,809.3 291.7,806.9 291.1,804.5 290.5,802.1 289.8,799.7 289.2,797.3 288.6,794.8 287.9,792.4 287.3,790.0 286.7,787.6 286.0,785.2 285.4,782.8 284.7,780.3 284.0,777.9 283.4,775.5 282.7,773.1 282.1,770.7 281.4,768.3 280.8,765.9 280.2,763.4 279.6,761.0 279.0,758.6 278.4,756.2 277.8,753.7 277.3,751.3 276.7,748.8 276.2,746.4 275.7,744.0 275.2,741.5 274.7,739.1 274.2,736.6 273.7,734.2 273.2,731.7 272.7,729.2 272.2,726.8 271.7,724.4 271.1,721.9 270.6,719.5 270.0,717.1 269.4,714.6 268.8,712.2 268.1,709.8 267.5,707.4 266.9,704.9 266.3,702.5 265.7,700.1 265.1,697.7 264.5,695.2 263.8,692.8 263.2,690.4 262.6,688.0 261.9,685.6 261.2,683.2 260.5,680.8 259.8,678.4 259.1,676.0 258.3,673.6 257.6,671.2 256.8,668.8 256.0,666.5 255.1,664.1 254.3,661.8 253.5,659.4 252.7,657.0 251.9,654.7 251.1,652.3 250.2,649.9 249.4,647.6 248.6,645.2 247.8,642.9 247.0,640.5 246.1,638.1 245.3,635.8 244.4,633.4 243.5,631.1 242.7,628.8 241.8,626.4 240.9,624.1 240.0,621.8 239.0,619.4 238.1,617.1 237.1,614.8 236.1,612.5 235.1,610.2 234.0,608.0 232.9,605.7 231.8,603.5 230.7,601.3 229.5,599.1 228.4,596.8 227.3,594.6 226.2,592.4 225.0,590.1 223.8,588.0 222.5,585.8 221.1,583.8 219.4,581.9 217.6,580.2 215.5,578.8 213.2,577.8 210.8,577.1 209.5,577.0" stroke="#0000ff"/>
<path d="M210.4,589.6 210.8,587.1 211.2,584.7 211.7,582.2 212.2,579.8 212.7,577.3 213.2,574.9 213.7,572.4 214.3,570.0 214.8,567.5 215.4,565.1 216.0,562.7 216.5,560.2 217.1,557.8 217.7,555.4 218.3,553.0 218.9,550.5 219.6,548.1 220.2,545.7 220.9,543.3 221.5,540.9 222.2,538.5 222.9,536.1 223.6,533.7 224.2,531.2 224.9,528.8 225.5,526.4 226.1,524.0 226.7,521.6 227.3,519.1 227.9,516.7 228.5,514.3 229.2,511.9 229.9,509.5 230.6,507.1 231.4,504.7 232.2,502.3 233.0,500.0 234.0,497.7 235.0,495.4 236.0,493.1 237.1,490.9 238.2,488.6 239.4,486.4 240.6,484.2 241.8,482.0 242.9,479.8 244.1,477.6 245.3,475.4 246.5,473.2 247.6,470.9 248.7,468.7 249.9,466.5 251.0,464.3 252.2,462.1 253.3,459.8 254.5,457.6 255.7,455.5 256.9,453.3 258.2,451.1 259.4,448.9 260.7,446.8 261.9,444.6 263.1,442.4 264.4,440.3 265.7,438.1 267.0,436.0 268.4,433.9 269.9,431.9 271.5,430.0 273.1,428.1 274.8,426.2 276.6,424.5 278.4,422.8 280.3,421.2 282.3,419.6 284.3,418.1 286.3,416.7 288.5,415.4 290.6,414.1 292.8,412.9 295.0,411.7 297.2,410.5 299.4,409.4 301.7,408.2 303.9,407.1 306.1,405.9 308.3,404.7 310.4,403.5 312.6,402.2 314.8,401.0 317.0,399.8 319.2,398.7 321.5,397.7 323.8,396.6 326.1,395.7 328.4,394.7 330.7,393.8 333.0,392.9 335.4,392.0 337.7,391.2 340.1,390.4 342.5,389.6 344.9,388.8 347.2,388.0 349.6,387.3 352.0,386.6 354.4,386.0 356.9,385.3 359.3,384.8 361.7,384.2 364.2,383.7 366.6,383.2 369.1,382.7 371.5,382.2 374.0,381.7 376.4,381.3 378.9,380.8 381.4,380.4 383.8,379.9 386.3,379.4 388.7,379.0 391.2,378.5 393.6,378.0 396.1,377.5 398.5,377.1 401.0,376.6 403.5,376.1 405.9,375.6 408.4,375.1 410.8,374.6 413.3,374.2 415.7,373.7 418.2,373.2 420.6,372.7 423.1,372.2 425.5,371.7 428.0,371.3 430.4,370.8 432.9,370.3 435.3,369.9 437.8,369.4 440.3,368.9 442.7,368.4 445.2,367.9 447.6,367.4 450.1,366.9 452.5,366.4 454.9,365.8 457.3,365.2 459.8,364.5 462.2,363.9 464.6,363.2 467.0,362.5 469.4,361.7 471.8,361.0 474.2,360.3 476.5,359.6 478.9,358.9 481.3,358.2 483.8,357.5 486.2,356.8 488.6,356.1 491.0,355.4 493.3,354.6 495.7,353.8 498.1,353.0 500.4,352.1 502.7,351.2 505.0,350.2 507.3,349.2 509.6,348.2 511.9,347.1 514.1,346.1 516.4,345.0 518.6,343.9 520.9,342.8 523.1,341.7 525.4,340.6 527.6,339.5 529.8,338.4 532.1,337.2 534.3,336.0 536.4,334.8 538.6,333.6 540.8,332.3 542.9,331.0 545.0,329.7 547.2,328.4 549.3,327.1 551.5,325.9 553.6,324.6 555.8,323.4 558.1,322.3 560.3,321.2 562.5,320.1 564.8,319.0 567.0,317.8 569.3,316.7 571.5,315.5 573.6,314.3 575.8,313.0 577.9,311.6 580.0,310.3 582.0,308.8 584.1,307.4 586.1,306.0 588.1,304.5 590.2,303.0 592.2,301.6 594.2,300.1 596.3,298.7 598.3,297.3 600.4,295.9 602.4,294.4 604.5,293.0 606.5,291.6 608.6,290.1 610.6,288.7 612.7,287.3 614.7,285.8 616.8,284.4 618.8,283.0 620.9,281.5 622.9,280.1 624.9,278.6 627.0,277.2 629.0,275.8 631.1,274.3 633.1,272.9 635.2,271.5 637.2,270.0 639.3,268.6 641.3,267.2 643.4,265.7 645.4,264.3 647.5,262.8 649.5,261.4 651.5,260.0 653.6,258.5 655.7,257.1 657.7,255.7 659.8,254.3 661.9,252.9 664.0,251.6 666.1,250.2 668.2,249.0 670.4,247.8 672.7,246.6 674.9,245.5 677.2,244.5 679.5,243.5 681.8,242.5 684.1,241.6 686.5,240.8 688.8,239.9 691.2,239.0 693.5,238.2 695.9,237.3 698.2,236.5 700.6,235.7 703.0,235.0 705.4,234.3 707.8,233.7 710.2,233.1 712.7,232.6 715.1,232.2 717.6,231.8 720.1,231.4 722.6,231.1 725.1,230.9 727.6,230.8 730.1,230.6 732.6,230.6 735.1,230.6 737.6,230.7 740.0,230.9 742.5,231.2 745.0,231.6 747.5,232.1 749.9,232.6 752.3,233.2 754.7,233.9 757.1,234.6 759.5,235.4 761.9,236.1 764.3,236.9 766.6,237.7 769.0,238.5 771.4,239.3 773.7,240.1 776.1,241.0 778.4,241.8 780.8,242.7 783.1,243.7 785.4,244.6 787.7,245.6 790.0,246.5 792.3,247.5 794.6,248.5 796.9,249.5 799.2,250.5 801.5,251.5 803.8,252.5 806.1,253.5 808.4,254.5 810.7,255.4 813.0,256.3 815.3,257.2 817.7,258.2 820.0,259.2 822.2,260.2 824.5,261.2 826.8,262.3 829.1,263.3 831.3,264.4 833.6,265.4 835.9,266.5 838.1,267.5 840.5,268.4 842.8,269.3 845.2,270.1 847.5,270.9 849.9,271.7 852.3,272.4 854.7,273.1 857.1,273.9 859.5,274.6 861.9,275.3 864.3,275.9 866.7,276.6 869.1,277.2 871.6,277.7 874.0,278.3 876.4,278.9 878.9,279.4 881.3,279.9 883.8,280.3 886.3,280.8 888.7,281.2 891.2,281.7 893.6,282.1 896.1,282.5 898.6,282.8 901.1,283.2 903.5,283.5 906.0,283.9 908.5,284.2 911.0,284.5 913.5,284.8 915.9,285.1 918.4,285.4 920.9,285.6 923.4,285.9 925.9,286.2 928.4,286.4 930.9,286.7 933.3,286.9 935.8,287.1 938.3,287.3 940.8,287.5 943.3,287.7 945.8,287.9 948.3,288.1 950.8,288.3 953.3,288.5 955.8,288.7 958.3,288.8 960.8,289.0 963.3,289.1 965.8,289.3 968.3,289.4 970.8,289.6 973.2,289.7 975.7,289.8 978.2,289.9 980.7,289.9 983.2,290.0 985.7,290.1 988.2,290.1 990.7,290.1 993.2,290.2 995.7,290.2 998.2,290.3 1000.7,290.3 1003.2,290.4 1005.7,290.5 1008.2,290.5 1010.7,290.6 1013.2,290.8 1015.7,290.9 1018.2,290.9 1020.7,291.0 1023.2,291.1 1025.7,291.1 1028.2,291.0 1030.7,290.9 1033.2,290.8 1035.7,290.6 1038.2,290.4 1040.7,290.2 1043.2,290.1 1045.7,289.9 1048.2,289.7 1050.7,289.6 1053.2,289.5 1055.7,289.4 1058.2,289.3 1060.7,289.3 1063.2,289.3 1065.7,289.2 1068.2,289.2 1070.7,289.1 1073.2,289.1 1075.7,289.0 1078.2,288.9 1080.7,288.8 1083.2,288.8 1085.7,288.6 1088.2,288.5 1090.7,288.4 1093.2,288.3 1095.7,288.1 1098.1,288.0 1100.6,287.9 1103.1,287.7 1105.6,287.6 1108.1,287.5 1110.6,287.3 1113.1,287.2 1115.6,287.1 1118.1,286.9 1120.6,286.8 1123.1,286.7 1125.6,286.6 1128.1,286.4 1130.6,286.3 1133.1,286.2 1135.6,286.1 1138.1,286.0 1140.6,285.9 1143.1,285.8 1145.6,285.7 1148.1,285.6 1150.6,285.6 1153.1,285.5 1155.6,285.4 1158.1,285.3 1160.6,285.2 1163.1,285.1 1165.6,284.9 1168.1,284.7 1170.6,284.5 1173.0,284.2 1175.5,283.9 1178.0,283.6 1180.5,283.4 1183.0,283.1 1185.5,282.8 1188.0,282.6 1190.4,282.4 1192.9,282.2 1195.4,282.0 1197.9,281.8 1200.4,281.7 1202.9,281.5 1205.4,281.4 1207.9,281.2 1210.4,281.1 1212.9,280.9 1215.4,280.8 1217.9,280.6 1220.4,280.5 1222.9,280.3 1225.4,280.2 1227.9,280.0 1230.4,279.9 1232.9,279.8 1235.4,279.6 1237.9,279.5 1240.4,279.3 1242.5,279.2 1242.1,281.7 1241.6,284.1 1241.1,286.6 1240.6,289.0 1240.1,291.5 1239.5,293.9 1238.9,296.3 1238.3,298.7 1237.6,301.2 1237.0,303.6 1236.4,306.0 1235.8,308.4 1235.2,310.8 1234.6,313.3 1234.0,315.7 1233.4,318.1 1232.7,320.5 1232.1,323.0 1231.5,325.4 1230.8,327.8 1230.1,330.2 1229.5,332.6 1228.8,335.0 1228.1,337.4 1227.4,339.8 1226.7,342.2 1226.0,344.6 1225.3,347.0 1224.6,349.4 1223.9,351.8 1223.2,354.2 1222.3,356.6 1221.4,358.9 1220.5,361.2 1219.5,363.5 1218.5,365.8 1217.5,368.1 1216.4,370.4 1215.4,372.6 1214.4,374.9 1213.5,377.3 1212.6,379.6 1211.8,381.9 1211.0,384.3 1210.3,386.7 1209.5,389.1 1208.8,391.5 1208.2,393.9 1207.6,396.3 1206.9,398.8 1206.3,401.2 1205.6,403.6 1204.8,405.9 1203.9,408.3 1202.9,410.6 1201.9,412.8 1200.7,415.1 1199.4,417.2 1198.1,419.4 1196.8,421.5 1195.5,423.6 1194.1,425.7 1192.8,427.8 1191.5,430.0 1190.3,432.1 1189.0,434.3 1187.8,436.5 1186.6,438.7 1185.4,440.9 1184.3,443.1 1183.1,445.3 1181.8,447.5 1180.6,449.6 1179.2,451.7 1177.9,453.8 1176.4,455.8 1174.9,457.8 1173.4,459.8 1171.8,461.7 1170.2,463.6 1168.5,465.5 1166.9,467.4 1165.2,469.3 1163.5,471.1 1161.8,473.0 1160.1,474.8 1158.4,476.6 1156.7,478.5 1155.0,480.3 1153.2,482.1 1151.5,483.8 1149.7,485.6 1147.9,487.3 1146.0,488.9 1144.1,490.6 1142.2,492.2 1140.3,493.8 1138.3,495.3 1136.3,496.9 1134.3,498.4 1132.3,499.9 1130.3,501.3 1128.3,502.8 1126.3,504.3 1124.2,505.7 1122.1,507.1 1120.0,508.4 1117.9,509.7 1115.7,511.0 1113.6,512.2 1111.3,513.4 1109.1,514.5 1106.8,515.6 1104.6,516.6 1102.3,517.6 1099.9,518.5 1097.6,519.4 1095.3,520.3 1092.9,521.1 1090.5,521.9 1088.2,522.7 1085.8,523.4 1083.4,524.1 1081.0,524.8 1078.6,525.5 1076.2,526.1 1073.7,526.7 1071.3,527.3 1068.9,527.9 1066.4,528.5 1064.0,529.0 1061.5,529.5 1059.1,530.1 1056.7,530.6 1054.2,531.1 1051.8,531.6 1049.3,532.0 1046.8,532.5 1044.4,533.0 1041.9,533.5 1039.5,533.9 1037.0,534.4 1034.6,534.8 1032.1,535.2 1029.6,535.7 1027.2,536.1 1024.7,536.5 1022.2,536.9 1019.8,537.2 1017.3,537.6 1014.8,538.0 1012.3,538.3 1009.9,538.7 1007.4,539.0 1004.9,539.3 1002.4,539.6 999.9,539.8 997.4,540.1 995.0,540.3 992.5,540.6 990.0,540.8 987.5,541.0 985.0,541.2 982.5,541.4 980.0,541.6 977.5,541.8 975.0,541.9 972.5,542.1 970.0,542.2 967.5,542.4 965.0,542.5 962.5,542.7 960.0,542.9 957.6,543.0 955.1,543.2 952.6,543.5 950.1,543.7 947.6,543.9 945.1,544.2 942.6,544.4 940.1,544.6 937.6,544.8 935.1,545.0 932.6,545.2 930.2,545.4 927.7,545.6 925.2,545.8 922.7,546.0 920.2,546.2 917.7,546.4 915.2,546.6 912.7,546.8 910.2,547.0 907.7,547.2 905.2,547.3 902.7,547.5 900.2,547.7 897.8,547.9 895.3,548.1 892.8,548.3 890.3,548.5 887.8,548.7 885.3,548.9 882.8,549.0 880.3,549.2 877.8,549.4 875.3,549.5 872.8,549.7 870.3,549.8 867.8,550.0 865.3,550.1 862.8,550.2 860.3,550.4 857.8,550.5 855.3,550.6 852.8,550.7 850.3,550.8 847.8,550.9 845.4,551.1 842.9,551.2 840.4,551.4 837.9,551.5 835.4,551.7 832.9,551.8 830.4,552.0 827.9,552.1 825.4,552.3 822.9,552.4 820.4,552.6 817.9,552.7 815.4,552.8 812.9,552.8 810.4,552.9 807.9,552.9 805.4,553.0 802.9,553.0 800.4,553.0 797.9,553.0 795.4,553.0 792.9,553.1 790.4,553.1 787.9,553.2 785.4,553.3 782.9,553.3 780.4,553.5 777.9,553.6 775.4,553.7 772.9,553.9 770.4,554.0 767.9,554.1 765.4,554.3 762.9,554.4 760.4,554.5 757.9,554.6 755.4,554.7 752.9,554.9 750.4,555.0 748.0,555.1 745.5,555.3 743.0,555.5 740.5,555.7 738.0,555.9 735.5,556.2 733.0,556.4 730.5,556.7 728.0,556.9 725.6,557.2 723.1,557.5 720.6,557.7 718.1,557.9 715.6,558.2 713.1,558.4 710.6,558.6 708.1,558.9 705.6,559.1 703.2,559.4 700.7,559.7 698.2,560.1 695.7,560.5 693.3,561.0 690.8,561.4 688.4,562.0 685.9,562.5 683.5,563.1 681.1,563.6 678.6,564.2 676.2,564.8 673.8,565.5 671.4,566.1 669.0,566.8 666.6,567.5 664.2,568.2 661.8,568.9 659.4,569.6 657.0,570.3 654.6,570.9 652.1,571.5 649.7,572.2 647.3,572.8 644.9,573.4 642.5,574.1 640.1,574.8 637.7,575.6 635.3,576.4 633.0,577.3 630.7,578.2 628.4,579.2 626.1,580.2 623.8,581.1 621.5,582.2 619.2,583.2 616.9,584.2 614.7,585.3 612.4,586.3 610.1,587.4 607.9,588.4 605.6,589.5 603.3,590.6 601.1,591.7 598.9,592.8 596.6,594.0 594.4,595.1 592.2,596.3 590.0,597.5 587.8,598.7 585.6,599.8 583.4,601.0 581.2,602.2 579.0,603.4 576.8,604.5 574.6,605.7 572.4,607.0 570.2,608.2 568.1,609.5 566.0,610.8 563.8,612.1 561.7,613.4 559.6,614.8 557.5,616.1 555.4,617.4 553.3,618.8 551.1,620.1 549.0,621.4 546.9,622.7 544.7,624.0 542.6,625.3 540.5,626.6 538.3,627.9 536.2,629.2 534.1,630.6 532.0,631.9 529.9,633.3 527.8,634.6 525.7,635.9 523.6,637.3 521.5,638.6 519.3,639.9 517.2,641.2 515.0,642.5 512.9,643.8 510.7,645.0 508.5,646.1 506.3,647.3 504.0,648.4 501.8,649.5 499.5,650.5 497.2,651.6 494.9,652.5 492.6,653.5 490.3,654.4 487.9,655.3 485.6,656.2 483.2,657.0 480.8,657.7 478.4,658.4 476.0,659.1 473.6,659.7 471.2,660.2 468.7,660.7 466.2,661.1 463.8,661.5 461.3,661.7 458.8,661.9 456.3,661.9 453.8,661.9 451.3,661.8 448.8,661.6 446.3,661.4 443.8,661.0 441.4,660.6 438.9,660.0 436.5,659.5 434.1,658.8 431.7,658.1 429.3,657.3 427.0,656.5 424.6,655.6 422.3,654.7 420.0,653.8 417.7,652.8 415.4,651.8 413.1,650.7 410.9,649.7 408.6,648.6 406.4,647.5 404.1,646.3 401.9,645.2 399.7,644.0 397.5,642.9 395.3,641.7 393.1,640.5 390.9,639.3 388.7,638.1 386.5,636.8 384.4,635.6 382.2,634.4 380.0,633.2 377.8,632.0 375.6,630.8 373.4,629.6 371.2,628.4 369.0,627.2 366.8,626.0 364.6,624.9 362.4,623.7 360.2,622.4 358.1,621.2 355.9,619.9 353.7,618.7 351.5,617.5 349.3,616.3 347.1,615.2 344.8,614.1 342.5,613.1 340.2,612.1 337.9,611.2 335.6,610.2 333.3,609.3 331.0,608.4 328.6,607.6 326.2,606.8 323.8,606.1 321.4,605.3 319.0,604.7 316.6,604.1 314.2,603.6 311.7,603.1 309.3,602.6 306.8,602.1 304.4,601.6 301.9,601.1 299.5,600.6 297.0,600.1 294.5,599.7 292.1,599.2 289.6,598.9 287.1,598.5 284.7,598.1 282.2,597.7 279.7,597.3 277.3,596.9 274.8,596.6 272.3,596.2 269.8,595.9 267.4,595.6 264.9,595.3 262.4,595.0 259.9,594.8 257.4,594.5 254.9,594.3 252.4,594.2 249.9,594.0 247.4,593.8 244.9,593.7 242.4,593.5 239.9,593.4 237.5,593.2 235.0,593.0 232.5,592.8 230.0,592.6 227.5,592.4 225.0,592.1 222.5,591.8 220.0,591.5 217.6,591.1 215.1,590.6 212.7,590.1 210.4,589.6" stroke="#ff00ff"/>
<path d="M209.7,497.0 209.8,494.5 210.1,492.0 210.6,489.6 211.1,487.1 211.9,484.7 212.7,482.4 213.8,480.1 214.9,477.9 216.2,475.8 217.7,473.7 219.3,471.8 221.0,470.0 222.9,468.4 225.0,467.0 227.1,465.7 229.3,464.6 231.7,463.6 234.0,462.9 236.5,462.2 238.9,461.7 241.3,461.2 243.8,460.7 246.3,460.2 248.7,459.8 251.2,459.2 253.6,458.7 256.0,458.1 258.4,457.5 260.9,456.8 263.3,456.2 265.7,455.6 268.1,455.0 270.6,454.5 273.0,454.0 275.5,453.6 278.0,453.2 280.4,452.9 282.9,452.6 285.4,452.2 287.9,451.9 290.4,451.6 292.9,451.3 295.3,451.1 297.8,450.8 300.3,450.5 302.8,450.3 305.3,450.1 307.8,449.8 310.3,449.6 312.7,449.3 315.2,449.1 317.7,448.8 320.2,448.5 322.7,448.3 325.2,448.0 327.7,447.8 330.2,447.6 332.7,447.4 335.1,447.2 337.6,447.0 340.1,446.8 342.6,446.6 345.1,446.5 347.6,446.3 350.1,446.2 352.6,446.0 355.1,445.9 357.6,445.7 360.1,445.5 362.6,445.4 365.1,445.2 367.6,445.0 370.1,444.8 372.6,444.6 375.0,444.4 377.5,444.2 380.0,444.0 382.5,443.8 385.0,443.6 387.5,443.4 390.0,443.1 392.5,442.9 395.0,442.7 397.5,442.5 400.0,442.2 402.4,442.0 404.9,441.8 407.4,441.5 409.9,441.3 412.4,441.0 414.9,440.8 417.4,440.5 419.9,440.3 422.3,440.0 424.8,439.7 427.3,439.4 429.8,439.1 432.3,438.8 434.7,438.4 437.2,438.1 439.7,437.8 442.2,437.4 444.6,437.0 447.1,436.6 449.6,436.2 452.0,435.8 454.5,435.3 456.9,434.8 459.4,434.3 461.8,433.7 464.3,433.1 466.7,432.6 469.1,431.9 471.5,431.3 473.9,430.7 476.4,430.0 478.8,429.4 481.2,428.7 483.6,428.0 486.0,427.3 488.4,426.6 490.8,425.9 493.2,425.1 495.5,424.4 497.9,423.6 500.3,422.7 502.6,421.9 504.9,421.0 507.3,420.0 509.6,419.0 511.8,418.0 514.1,417.0 516.4,415.9 518.6,414.8 520.9,413.7 523.1,412.7 525.4,411.7 527.7,410.7 530.0,409.7 532.4,408.8 534.7,407.9 537.0,407.0 539.4,406.1 541.7,405.2 544.0,404.2 546.3,403.3 548.6,402.3 550.9,401.2 553.1,400.2 555.4,399.1 557.7,398.0 559.9,397.0 562.2,395.9 564.4,394.8 566.7,393.7 568.9,392.7 571.2,391.6 573.4,390.5 575.7,389.4 577.9,388.2 580.1,387.1 582.4,386.0 584.6,384.8 586.8,383.7 589.0,382.6 591.3,381.4 593.5,380.3 595.7,379.2 598.0,378.0 600.2,376.9 602.4,375.8 604.7,374.7 606.9,373.5 609.1,372.4 611.4,371.3 613.6,370.3 615.9,369.2 618.2,368.3 620.5,367.3 622.8,366.4 625.2,365.4 627.5,364.5 629.8,363.6 632.2,362.8 634.5,361.9 636.9,361.1 639.2,360.2 641.6,359.5 644.0,358.8 646.4,358.1 648.9,357.5 651.3,357.0 653.8,356.5 656.2,356.1 658.7,355.7 661.2,355.4 663.7,355.1 666.1,354.8 668.6,354.6 671.1,354.4 673.6,354.3 676.1,354.2 678.6,354.2 681.1,354.3 683.6,354.4 686.1,354.6 688.6,354.8 691.1,355.1 693.5,355.4 696.0,355.8 698.5,356.3 700.9,356.8 703.4,357.4 705.8,358.0 708.2,358.6 710.6,359.3 713.0,359.9 715.4,360.6 717.9,361.2 720.3,361.9 722.7,362.5 725.1,363.2 727.5,363.9 729.9,364.5 732.3,365.2 734.7,366.0 737.1,366.7 739.5,367.4 741.9,368.1 744.3,368.9 746.7,369.6 749.1,370.3 751.5,370.9 753.9,371.6 756.3,372.2 758.8,372.7 761.2,373.3 763.6,373.8 766.1,374.3 768.5,374.8 771.0,375.3 773.4,375.8 775.9,376.2 778.4,376.7 780.8,377.2 783.2,377.8 785.7,378.3 788.1,378.7 790.6,379.2 793.1,379.7 795.5,380.1 798.0,380.6 800.4,381.0 802.9,381.4 805.4,381.8 807.9,382.2 810.3,382.5 812.8,382.9 815.3,383.2 817.8,383.5 820.2,383.8 822.7,384.1 825.2,384.4 827.7,384.6 830.2,384.9 832.7,385.2 835.2,385.4 837.6,385.7 840.1,385.9 842.6,386.2 845.1,386.4 847.6,386.7 850.1,386.9 852.6,387.1 855.1,387.4 857.6,387.6 860.0,387.8 862.5,388.0 865.0,388.2 867.5,388.5 870.0,388.7 872.5,388.9 875.0,389.1 877.5,389.3 880.0,389.4 882.5,389.6 885.0,389.8 887.5,390.0 890.0,390.1 892.4,390.3 894.9,390.4 897.4,390.6 899.9,390.7 902.4,390.8 904.9,391.0 907.4,391.1 909.9,391.2 912.4,391.3 914.9,391.5 917.4,391.6 919.9,391.7 922.4,391.8 924.9,391.9 927.4,392.0 929.9,392.1 932.4,392.1 934.9,392.2 937.4,392.3 939.9,392.4 942.4,392.5 944.9,392.6 947.4,392.7 949.9,392.7 952.4,392.8 954.9,392.9 957.4,392.9 959.9,393.0 962.4,393.1 964.9,393.1 967.4,393.2 969.9,393.2 972.4,393.2 974.9,393.3 977.4,393.3 979.9,393.3 982.4,393.3 984.9,393.4 987.4,393.4 989.9,393.4 992.4,393.4 994.9,393.5 997.4,393.5 999.9,393.5 1002.4,393.5 1004.9,393.6 1007.4,393.6 1009.9,393.6 1012.4,393.6 1014.9,393.7 1017.4,393.7 1019.9,393.7 1022.4,393.7 1024.9,393.8 1027.4,393.8 1029.9,393.8 1032.4,393.8 1034.9,393.8 1037.4,393.9 1039.9,393.9 1042.4,393.9 1044.9,393.9 1047.4,393.9 1049.9,394.0 1052.4,394.0 1054.9,394.0 1057.4,394.0 1059.9,394.0 1062.4,394.0 1064.9,394.0 1067.4,394.0 1069.9,394.0 1072.4,394.0 1074.9,394.0 1077.4,394.0 1079.9,394.0 1082.4,394.0 1084.9,394.0 1087.4,394.0 1089.9,394.0 1092.4,394.0 1094.9,394.0 1097.4,394.0 1099.9,394.0 1102.4,394.0 1104.9,394.0 1107.4,394.0 1109.9,394.0 1112.4,394.0 1114.9,394.0 1117.4,394.0 1119.9,394.0 1122.4,394.0 1124.9,394.0 1127.4,394.0 1129.9,394.0 1132.4,394.0 1134.9,394.0 1137.4,394.0 1139.9,394.0 1142.4,394.0 1144.9,394.0 1147.4,394.0 1149.9,394.0 1152.4,394.0 1154.9,394.0 1157.4,394.0 1159.9,394.0 1162.4,394.0 1164.9,394.0 1167.4,394.0 1169.9,394.0 1172.4,394.0 1174.9,394.0 1177.4,394.0 1179.9,394.0 1182.4,394.0 1184.9,394.0 1187.4,394.0 1189.9,394.0 1192.4,394.0 1194.9,394.0 1197.4,394.0 1199.9,394.0 1202.4,394.0 1204.9,394.0 1207.4,394.0 1209.9,394.0 1212.4,394.0 1214.9,393.9 1217.4,393.9 1219.9,393.9 1222.4,393.9 1224.9,393.9 1227.4,393.9 1229.9,393.9 1232.4,393.9 1234.9,393.8 1237.4,393.8 1239.9,393.8 1242.0,393.8 1241.3,396.2 1240.7,398.6 1240.1,401.0 1239.5,403.5 1238.7,405.8 1237.9,408.2 1237.0,410.6 1236.1,412.9 1235.0,415.1 1233.8,417.3 1232.5,419.5 1231.1,421.5 1229.6,423.5 1228.0,425.4 1226.2,427.1 1224.3,428.7 1222.2,430.2 1220.1,431.6 1218.0,432.9 1215.8,434.1 1213.6,435.3 1211.4,436.4 1209.1,437.5 1206.9,438.5 1204.6,439.6 1202.3,440.6 1200.0,441.6 1197.7,442.5 1195.3,443.3 1192.9,444.1 1190.5,444.7 1188.1,445.2 1185.6,445.7 1183.2,446.1 1180.7,446.5 1178.2,446.8 1175.7,447.1 1173.2,447.4 1170.8,447.6 1168.3,447.9 1165.8,448.1 1163.3,448.3 1160.8,448.5 1158.3,448.7 1155.8,448.9 1153.3,449.1 1150.8,449.2 1148.3,449.4 1145.8,449.6 1143.3,449.7 1140.8,449.8 1138.3,450.0 1135.8,450.1 1133.3,450.3 1130.9,450.5 1128.4,450.6 1125.9,450.8 1123.4,451.0 1120.9,451.2 1118.4,451.4 1115.9,451.6 1113.4,451.8 1110.9,451.9 1108.4,452.1 1105.9,452.2 1103.4,452.3 1100.9,452.5 1098.4,452.6 1095.9,452.6 1093.4,452.7 1090.9,452.8 1088.4,452.8 1085.9,452.9 1083.4,452.9 1080.9,453.0 1078.4,453.0 1075.9,453.1 1073.4,453.1 1070.9,453.2 1068.4,453.2 1065.9,453.3 1063.4,453.3 1060.9,453.4 1058.4,453.4 1055.9,453.5 1053.4,453.5 1050.9,453.6 1048.4,453.6 1045.9,453.7 1043.4,453.8 1040.9,453.8 1038.4,453.9 1035.9,453.9 1033.4,454.0 1030.9,454.1 1028.4,454.1 1025.9,454.2 1023.4,454.3 1020.9,454.3 1018.4,454.4 1015.9,454.5 1013.4,454.5 1010.9,454.6 1008.4,454.7 1005.9,454.7 1003.5,454.8 1001.0,454.9 998.5,454.9 996.0,455.0 993.5,455.1 991.0,455.1 988.5,455.2 986.0,455.2 983.5,455.3 981.0,455.4 978.5,455.4 976.0,455.5 973.5,455.5 971.0,455.5 968.5,455.5 966.0,455.5 963.5,455.6 961.0,455.6 958.5,455.6 956.0,455.6 953.5,455.6 951.0,455.6 948.5,455.6 946.0,455.6 943.5,455.7 941.0,455.7 938.5,455.7 936.0,455.8 933.5,455.8 931.0,455.8 928.5,455.9 926.0,455.9 923.5,455.9 921.0,455.9 918.5,456.0 916.0,456.0 913.5,456.0 911.0,456.0 908.5,456.1 906.0,456.1 903.5,456.1 901.0,456.1 898.5,456.2 896.0,456.2 893.5,456.2 891.0,456.2 888.5,456.3 886.0,456.3 883.5,456.3 881.0,456.4 878.5,456.4 876.0,456.4 873.5,456.5 871.0,456.5 868.5,456.5 866.0,456.6 863.5,456.6 861.0,456.7 858.5,456.7 856.0,456.8 853.5,456.8 851.0,456.9 848.5,456.9 846.0,457.0 843.5,457.0 841.0,457.1 838.5,457.1 836.0,457.2 833.5,457.2 831.0,457.3 828.5,457.3 826.0,457.4 823.5,457.5 821.0,457.6 818.5,457.6 816.0,457.7 813.5,457.8 811.0,457.9 808.5,458.1 806.0,458.2 803.5,458.3 801.0,458.4 798.5,458.6 796.0,458.7 793.5,458.9 791.0,459.0 788.5,459.2 786.0,459.3 783.5,459.5 781.0,459.6 778.5,459.8 776.0,460.0 773.6,460.2 771.1,460.4 768.6,460.6 766.1,460.7 763.6,460.9 761.1,461.1 758.6,461.2 756.1,461.4 753.6,461.6 751.1,461.7 748.6,461.9 746.1,462.1 743.6,462.4 741.1,462.6 738.7,462.9 736.2,463.2 733.7,463.5 731.2,463.8 728.7,464.1 726.3,464.4 723.8,464.8 721.3,465.1 718.8,465.4 716.3,465.8 713.9,466.2 711.4,466.5 708.9,466.9 706.5,467.3 704.0,467.8 701.5,468.2 699.1,468.6 696.6,469.1 694.2,469.6 691.7,470.1 689.3,470.6 686.8,471.1 684.4,471.7 682.0,472.3 679.6,473.0 677.1,473.6 674.7,474.2 672.3,474.8 669.9,475.5 667.5,476.1 665.1,476.8 662.7,477.5 660.3,478.3 657.9,479.1 655.6,479.9 653.2,480.8 650.9,481.7 648.6,482.6 646.3,483.6 644.0,484.6 641.7,485.6 639.4,486.6 637.1,487.6 634.8,488.6 632.5,489.6 630.2,490.6 628.0,491.7 625.7,492.7 623.4,493.8 621.2,494.8 618.9,495.9 616.6,496.9 614.4,498.0 612.1,499.1 609.9,500.2 607.6,501.3 605.4,502.4 603.1,503.5 600.9,504.6 598.7,505.8 596.5,506.9 594.2,508.0 592.0,509.2 589.8,510.3 587.5,511.4 585.3,512.5 583.0,513.5 580.7,514.6 578.5,515.6 576.2,516.7 573.9,517.7 571.6,518.7 569.3,519.7 567.0,520.7 564.8,521.7 562.5,522.7 560.2,523.7 557.9,524.7 555.6,525.6 553.2,526.6 550.9,527.5 548.6,528.4 546.2,529.2 543.8,529.9 541.4,530.6 539.0,531.3 536.6,531.9 534.1,532.4 531.7,532.9 529.2,533.3 526.8,533.7 524.3,534.1 521.8,534.4 519.3,534.7 516.8,534.9 514.3,535.1 511.8,535.2 509.3,535.4 506.8,535.5 504.4,535.5 501.9,535.5 499.4,535.5 496.9,535.3 494.4,535.1 491.9,534.9 489.4,534.5 486.9,534.1 484.5,533.7 482.0,533.2 479.6,532.7 477.1,532.2 474.7,531.7 472.2,531.2 469.8,530.7 467.3,530.2 464.9,529.7 462.4,529.3 460.0,528.8 457.5,528.3 455.1,527.8 452.6,527.3 450.2,526.8 447.7,526.3 445.3,525.8 442.8,525.2 440.4,524.7 438.0,524.1 435.5,523.5 433.1,522.9 430.7,522.3 428.3,521.7 425.8,521.0 423.4,520.4 421.0,519.7 418.6,519.1 416.2,518.4 413.8,517.8 411.3,517.2 408.9,516.5 406.5,515.9 404.1,515.3 401.6,514.8 399.2,514.2 396.8,513.6 394.3,513.1 391.9,512.5 389.4,512.0 387.0,511.5 384.5,511.0 382.1,510.5 379.6,510.0 377.2,509.6 374.7,509.1 372.3,508.7 369.8,508.3 367.3,507.8 364.9,507.4 362.4,507.0 359.9,506.7 357.5,506.3 355.0,506.0 352.5,505.6 350.0,505.3 347.5,505.0 345.1,504.7 342.6,504.4 340.1,504.1 337.6,503.8 335.1,503.6 332.6,503.3 330.1,503.1 327.7,502.9 325.2,502.7 322.7,502.5 320.2,502.3 317.7,502.2 315.2,502.0 312.7,501.9 310.2,501.7 307.7,501.6 305.2,501.4 302.7,501.2 300.2,501.0 297.7,500.8 295.2,500.5 292.8,500.3 290.3,500.0 287.8,499.7 285.3,499.5 282.8,499.2 280.3,498.9 277.8,498.7 275.3,498.5 272.9,498.3 270.4,498.1 267.9,497.9 265.4,497.7 262.9,497.5 260.4,497.3 257.9,497.2 255.4,497.0 252.9,496.9 250.4,496.8 247.9,496.6 245.4,496.5 242.9,496.4 240.4,496.3 237.9,496.3 235.4,496.2 232.9,496.1 230.4,496.1 227.9,496.0 225.4,495.9 222.9,495.9 220.4,495.9 217.9,496.0 215.4,496.1 212.9,496.3 210.4,496.5 209.7,497.0" stroke="#057805"/>
</g>
<g font-size="55" fill="#000">
<text x="184.8" y="853.4" text-anchor="end">-2.0</text>
<text x="184.8" y="753.6" text-anchor="end">-1.5</text>
<text x="184.8" y="653.8" text-anchor="end">-1.0</text>
<text x="184.8" y="554.1" text-anchor="end">-0.5</text>
<text x="184.8" y="454.3" text-anchor="end">0.0</text>
<text x="184.8" y="354.5" text-anchor="end">0.5</text>
<text x="184.8" y="254.8" text-anchor="end">1.0</text>
<text x="184.8" y="155.0" text-anchor="end">1.5</text>
<text x="184.8" y="55.2" text-anchor="end">2.0</text>
<text x="207.7" y="965" text-anchor="middle">0.0</text>
<text x="380.2" y="965" text-anchor="middle">0.1</text>
<text x="552.6" y="965" text-anchor="middle">0.2</text>
<text x="725.1" y="965" text-anchor="middle">0.3</text>
<text x="897.6" y="965" text-anchor="middle">0.4</text>
<text x="1070.0" y="965" text-anchor="middle">0.5</text>
<text x="1242.5" y="965" text-anchor="middle">0.6</text>
</g>
<text transform="translate(511.13,1052.2) scale(0.914,1)" font-size="89.5" font-weight="bold">Potential</text>
<text transform="translate(876.97,1052.2) scale(0.930,1)" font-size="89.5" font-weight="bold">(V)</text>
<text transform="translate(73.2,739.82) rotate(-90) scale(0.958,1)" font-size="89.5" font-weight="bold">Current (mA)</text>
<line x1="547.0" y1="677.4" x2="667.5" y2="677.4" stroke="#fa780a" stroke-width="8" stroke-linecap="round"/>
<text transform="translate(684.10,695.30) scale(0.890,1)" font-size="59.7">Au</text>
<line x1="547.0" y1="763.5" x2="667.5" y2="763.5" stroke="#ff0000" stroke-width="8" stroke-linecap="round"/>
<text transform="translate(684.30,781.80) scale(0.890,1)" font-size="59.7">Au</text>
<text x="750.04" y="801.80" font-size="32.3">10</text>
<text transform="translate(785.94,781.80) scale(0.890,1)" font-size="59.7">Pt</text>
<text x="836.74" y="801.80" font-size="32.3">0.5</text>
<line x1="547.0" y1="849.6" x2="667.5" y2="849.6" stroke="#ff00ff" stroke-width="8" stroke-linecap="round"/>
<text transform="translate(684.40,869.00) scale(0.890,1)" font-size="59.7">Au</text>
<text x="750.54" y="888.60" font-size="32.3">10</text>
<text transform="translate(785.94,869.00) scale(0.890,1)" font-size="59.7">Pt</text>
<text x="837.38" y="888.60" font-size="32.3">2.5</text>
<line x1="925.3" y1="676.4" x2="1043.7" y2="676.4" stroke="#000" stroke-width="8" stroke-linecap="round"/>
<text transform="translate(1061.60,695.00) scale(0.890,1)" font-size="59.7">Au</text>
<text x="1128.04" y="715.90" font-size="32.3">10</text>
<line x1="928.6" y1="763.6" x2="1047.8" y2="763.6" stroke="#0000ff" stroke-width="8" stroke-linecap="round"/>
<text transform="translate(1065.70,781.70) scale(0.890,1)" font-size="59.7">Au</text>
<text x="1131.74" y="802.00" font-size="32.3">10</text>
<text transform="translate(1167.14,781.70) scale(0.890,1)" font-size="59.7">Pt</text>
<text x="1218.14" y="802.00" font-size="32.3">1</text>
<line x1="928.6" y1="849.7" x2="1047.8" y2="849.7" stroke="#057805" stroke-width="8" stroke-linecap="round"/>
<text transform="translate(1065.70,869.80) scale(0.890,1)" font-size="59.7">Au</text>
<text x="1131.74" y="888.80" font-size="32.3">10</text>
<text transform="translate(1167.14,869.80) scale(0.890,1)" font-size="59.7">Pt</text>
<text x="1217.71" y="888.80" font-size="32.3">5</text>
</svg></body></html>
